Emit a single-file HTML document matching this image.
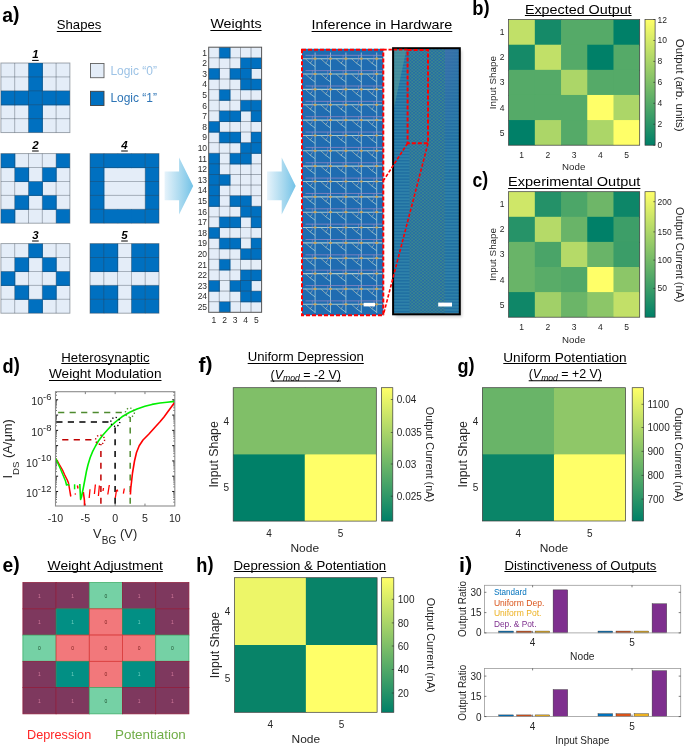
<!DOCTYPE html>
<html><head><meta charset="utf-8"><style>
html,body{margin:0;padding:0;background:#fff;}
svg{display:block;font-family:"Liberation Sans", sans-serif;will-change:transform;}
</style></head><body>
<svg width="685" height="746" viewBox="0 0 685 746">
<rect width="685" height="746" fill="#fff"/>
<text x="2.30" y="21.50" font-size="20" font-weight="bold" fill="#000" textLength="17.20" lengthAdjust="spacingAndGlyphs">a<tspan dy="-1">)</tspan></text>
<text x="56.80" y="28.50" font-size="13.5" fill="#000" textLength="44.50" lengthAdjust="spacingAndGlyphs" >Shapes</text>
<line x1="56.80" y1="31.50" x2="101.30" y2="31.50" stroke="#000" stroke-width="1.0" />
<text x="210.40" y="28.40" font-size="13.5" fill="#000" textLength="51.20" lengthAdjust="spacingAndGlyphs" >Weights</text>
<line x1="210.40" y1="30.50" x2="261.60" y2="30.50" stroke="#000" stroke-width="1.0" />
<text x="311.60" y="29.00" font-size="13.5" fill="#000" textLength="140.70" lengthAdjust="spacingAndGlyphs" >Inference in Hardware</text>
<line x1="311.60" y1="31.50" x2="452.30" y2="31.50" stroke="#000" stroke-width="1.0" />
<rect x="0.90" y="63.00" width="69.00" height="69.60" fill="#E4EDF8" />
<rect x="28.50" y="63.00" width="14.40" height="14.52" fill="#0070C0" />
<rect x="28.50" y="76.92" width="14.40" height="14.52" fill="#0070C0" />
<rect x="0.90" y="90.84" width="14.40" height="14.52" fill="#0070C0" />
<rect x="14.70" y="90.84" width="14.40" height="14.52" fill="#0070C0" />
<rect x="28.50" y="90.84" width="14.40" height="14.52" fill="#0070C0" />
<rect x="42.30" y="90.84" width="14.40" height="14.52" fill="#0070C0" />
<rect x="56.10" y="90.84" width="13.80" height="14.52" fill="#0070C0" />
<rect x="28.50" y="104.76" width="14.40" height="14.52" fill="#0070C0" />
<rect x="28.50" y="118.68" width="14.40" height="13.92" fill="#0070C0" />
<line x1="14.70" y1="63.00" x2="14.70" y2="132.60" stroke="#2E3A46" stroke-width="0.8" opacity="0.45"/>
<line x1="0.90" y1="76.92" x2="69.90" y2="76.92" stroke="#2E3A46" stroke-width="0.8" opacity="0.45"/>
<line x1="28.50" y1="63.00" x2="28.50" y2="132.60" stroke="#2E3A46" stroke-width="0.8" opacity="0.45"/>
<line x1="0.90" y1="90.84" x2="69.90" y2="90.84" stroke="#2E3A46" stroke-width="0.8" opacity="0.45"/>
<line x1="42.30" y1="63.00" x2="42.30" y2="132.60" stroke="#2E3A46" stroke-width="0.8" opacity="0.45"/>
<line x1="0.90" y1="104.76" x2="69.90" y2="104.76" stroke="#2E3A46" stroke-width="0.8" opacity="0.45"/>
<line x1="56.10" y1="63.00" x2="56.10" y2="132.60" stroke="#2E3A46" stroke-width="0.8" opacity="0.45"/>
<line x1="0.90" y1="118.68" x2="69.90" y2="118.68" stroke="#2E3A46" stroke-width="0.8" opacity="0.45"/>
<rect x="0.90" y="63.00" width="69.00" height="69.60" fill="none" stroke="#3A4550" stroke-width="0.9" opacity="0.5"/>
<text x="35.40" y="58.30" font-size="11.5" fill="#000" text-anchor="middle" font-weight="bold" font-style="italic" >1</text>
<line x1="32.10" y1="60.40" x2="38.70" y2="60.40" stroke="#000" stroke-width="1" />
<rect x="0.90" y="153.60" width="69.00" height="69.60" fill="#E4EDF8" />
<rect x="0.90" y="153.60" width="14.40" height="14.52" fill="#0070C0" />
<rect x="56.10" y="153.60" width="13.80" height="14.52" fill="#0070C0" />
<rect x="14.70" y="167.52" width="14.40" height="14.52" fill="#0070C0" />
<rect x="42.30" y="167.52" width="14.40" height="14.52" fill="#0070C0" />
<rect x="28.50" y="181.44" width="14.40" height="14.52" fill="#0070C0" />
<rect x="14.70" y="195.36" width="14.40" height="14.52" fill="#0070C0" />
<rect x="42.30" y="195.36" width="14.40" height="14.52" fill="#0070C0" />
<rect x="0.90" y="209.28" width="14.40" height="13.92" fill="#0070C0" />
<rect x="56.10" y="209.28" width="13.80" height="13.92" fill="#0070C0" />
<line x1="14.70" y1="153.60" x2="14.70" y2="223.20" stroke="#2E3A46" stroke-width="0.8" opacity="0.45"/>
<line x1="0.90" y1="167.52" x2="69.90" y2="167.52" stroke="#2E3A46" stroke-width="0.8" opacity="0.45"/>
<line x1="28.50" y1="153.60" x2="28.50" y2="223.20" stroke="#2E3A46" stroke-width="0.8" opacity="0.45"/>
<line x1="0.90" y1="181.44" x2="69.90" y2="181.44" stroke="#2E3A46" stroke-width="0.8" opacity="0.45"/>
<line x1="42.30" y1="153.60" x2="42.30" y2="223.20" stroke="#2E3A46" stroke-width="0.8" opacity="0.45"/>
<line x1="0.90" y1="195.36" x2="69.90" y2="195.36" stroke="#2E3A46" stroke-width="0.8" opacity="0.45"/>
<line x1="56.10" y1="153.60" x2="56.10" y2="223.20" stroke="#2E3A46" stroke-width="0.8" opacity="0.45"/>
<line x1="0.90" y1="209.28" x2="69.90" y2="209.28" stroke="#2E3A46" stroke-width="0.8" opacity="0.45"/>
<rect x="0.90" y="153.60" width="69.00" height="69.60" fill="none" stroke="#3A4550" stroke-width="0.9" opacity="0.5"/>
<text x="35.40" y="148.90" font-size="11.5" fill="#000" text-anchor="middle" font-weight="bold" font-style="italic" >2</text>
<line x1="32.10" y1="151.00" x2="38.70" y2="151.00" stroke="#000" stroke-width="1" />
<rect x="0.90" y="243.60" width="69.00" height="69.60" fill="#E4EDF8" />
<rect x="28.50" y="243.60" width="14.40" height="14.52" fill="#0070C0" />
<rect x="14.70" y="257.52" width="14.40" height="14.52" fill="#0070C0" />
<rect x="42.30" y="257.52" width="14.40" height="14.52" fill="#0070C0" />
<rect x="0.90" y="271.44" width="14.40" height="14.52" fill="#0070C0" />
<rect x="56.10" y="271.44" width="13.80" height="14.52" fill="#0070C0" />
<rect x="14.70" y="285.36" width="14.40" height="14.52" fill="#0070C0" />
<rect x="42.30" y="285.36" width="14.40" height="14.52" fill="#0070C0" />
<rect x="28.50" y="299.28" width="14.40" height="13.92" fill="#0070C0" />
<line x1="14.70" y1="243.60" x2="14.70" y2="313.20" stroke="#2E3A46" stroke-width="0.8" opacity="0.45"/>
<line x1="0.90" y1="257.52" x2="69.90" y2="257.52" stroke="#2E3A46" stroke-width="0.8" opacity="0.45"/>
<line x1="28.50" y1="243.60" x2="28.50" y2="313.20" stroke="#2E3A46" stroke-width="0.8" opacity="0.45"/>
<line x1="0.90" y1="271.44" x2="69.90" y2="271.44" stroke="#2E3A46" stroke-width="0.8" opacity="0.45"/>
<line x1="42.30" y1="243.60" x2="42.30" y2="313.20" stroke="#2E3A46" stroke-width="0.8" opacity="0.45"/>
<line x1="0.90" y1="285.36" x2="69.90" y2="285.36" stroke="#2E3A46" stroke-width="0.8" opacity="0.45"/>
<line x1="56.10" y1="243.60" x2="56.10" y2="313.20" stroke="#2E3A46" stroke-width="0.8" opacity="0.45"/>
<line x1="0.90" y1="299.28" x2="69.90" y2="299.28" stroke="#2E3A46" stroke-width="0.8" opacity="0.45"/>
<rect x="0.90" y="243.60" width="69.00" height="69.60" fill="none" stroke="#3A4550" stroke-width="0.9" opacity="0.5"/>
<text x="35.40" y="238.90" font-size="11.5" fill="#000" text-anchor="middle" font-weight="bold" font-style="italic" >3</text>
<line x1="32.10" y1="241.00" x2="38.70" y2="241.00" stroke="#000" stroke-width="1" />
<rect x="90.00" y="153.60" width="69.00" height="69.60" fill="#E4EDF8" />
<rect x="90.00" y="153.60" width="14.40" height="14.52" fill="#0070C0" />
<rect x="103.80" y="153.60" width="14.40" height="14.52" fill="#0070C0" />
<rect x="117.60" y="153.60" width="14.40" height="14.52" fill="#0070C0" />
<rect x="131.40" y="153.60" width="14.40" height="14.52" fill="#0070C0" />
<rect x="145.20" y="153.60" width="13.80" height="14.52" fill="#0070C0" />
<rect x="90.00" y="167.52" width="14.40" height="14.52" fill="#0070C0" />
<rect x="145.20" y="167.52" width="13.80" height="14.52" fill="#0070C0" />
<rect x="90.00" y="181.44" width="14.40" height="14.52" fill="#0070C0" />
<rect x="145.20" y="181.44" width="13.80" height="14.52" fill="#0070C0" />
<rect x="90.00" y="195.36" width="14.40" height="14.52" fill="#0070C0" />
<rect x="145.20" y="195.36" width="13.80" height="14.52" fill="#0070C0" />
<rect x="90.00" y="209.28" width="14.40" height="13.92" fill="#0070C0" />
<rect x="103.80" y="209.28" width="14.40" height="13.92" fill="#0070C0" />
<rect x="117.60" y="209.28" width="14.40" height="13.92" fill="#0070C0" />
<rect x="131.40" y="209.28" width="14.40" height="13.92" fill="#0070C0" />
<rect x="145.20" y="209.28" width="13.80" height="13.92" fill="#0070C0" />
<line x1="103.80" y1="153.60" x2="103.80" y2="223.20" stroke="#2E3A46" stroke-width="0.8" opacity="0.45"/>
<line x1="90.00" y1="167.52" x2="159.00" y2="167.52" stroke="#2E3A46" stroke-width="0.8" opacity="0.45"/>
<line x1="90.00" y1="181.44" x2="159.00" y2="181.44" stroke="#2E3A46" stroke-width="0.8" opacity="0.45"/>
<line x1="90.00" y1="195.36" x2="159.00" y2="195.36" stroke="#2E3A46" stroke-width="0.8" opacity="0.45"/>
<line x1="145.20" y1="153.60" x2="145.20" y2="223.20" stroke="#2E3A46" stroke-width="0.8" opacity="0.45"/>
<line x1="90.00" y1="209.28" x2="159.00" y2="209.28" stroke="#2E3A46" stroke-width="0.8" opacity="0.45"/>
<rect x="90.00" y="153.60" width="69.00" height="69.60" fill="none" stroke="#3A4550" stroke-width="0.9" opacity="0.5"/>
<text x="124.50" y="148.90" font-size="11.5" fill="#000" text-anchor="middle" font-weight="bold" font-style="italic" >4</text>
<line x1="121.20" y1="151.00" x2="127.80" y2="151.00" stroke="#000" stroke-width="1" />
<rect x="90.00" y="243.60" width="69.00" height="69.60" fill="#E4EDF8" />
<rect x="90.00" y="243.60" width="14.40" height="14.52" fill="#0070C0" />
<rect x="103.80" y="243.60" width="14.40" height="14.52" fill="#0070C0" />
<rect x="131.40" y="243.60" width="14.40" height="14.52" fill="#0070C0" />
<rect x="145.20" y="243.60" width="13.80" height="14.52" fill="#0070C0" />
<rect x="90.00" y="257.52" width="14.40" height="14.52" fill="#0070C0" />
<rect x="103.80" y="257.52" width="14.40" height="14.52" fill="#0070C0" />
<rect x="131.40" y="257.52" width="14.40" height="14.52" fill="#0070C0" />
<rect x="145.20" y="257.52" width="13.80" height="14.52" fill="#0070C0" />
<rect x="90.00" y="285.36" width="14.40" height="14.52" fill="#0070C0" />
<rect x="103.80" y="285.36" width="14.40" height="14.52" fill="#0070C0" />
<rect x="131.40" y="285.36" width="14.40" height="14.52" fill="#0070C0" />
<rect x="145.20" y="285.36" width="13.80" height="14.52" fill="#0070C0" />
<rect x="90.00" y="299.28" width="14.40" height="13.92" fill="#0070C0" />
<rect x="103.80" y="299.28" width="14.40" height="13.92" fill="#0070C0" />
<rect x="131.40" y="299.28" width="14.40" height="13.92" fill="#0070C0" />
<rect x="145.20" y="299.28" width="13.80" height="13.92" fill="#0070C0" />
<line x1="103.80" y1="243.60" x2="103.80" y2="313.20" stroke="#2E3A46" stroke-width="0.8" opacity="0.45"/>
<line x1="90.00" y1="257.52" x2="159.00" y2="257.52" stroke="#2E3A46" stroke-width="0.8" opacity="0.45"/>
<line x1="117.60" y1="243.60" x2="117.60" y2="313.20" stroke="#2E3A46" stroke-width="0.8" opacity="0.45"/>
<line x1="90.00" y1="271.44" x2="159.00" y2="271.44" stroke="#2E3A46" stroke-width="0.8" opacity="0.45"/>
<line x1="131.40" y1="243.60" x2="131.40" y2="313.20" stroke="#2E3A46" stroke-width="0.8" opacity="0.45"/>
<line x1="90.00" y1="285.36" x2="159.00" y2="285.36" stroke="#2E3A46" stroke-width="0.8" opacity="0.45"/>
<line x1="145.20" y1="243.60" x2="145.20" y2="313.20" stroke="#2E3A46" stroke-width="0.8" opacity="0.45"/>
<line x1="90.00" y1="299.28" x2="159.00" y2="299.28" stroke="#2E3A46" stroke-width="0.8" opacity="0.45"/>
<rect x="90.00" y="243.60" width="69.00" height="69.60" fill="none" stroke="#3A4550" stroke-width="0.9" opacity="0.5"/>
<text x="124.50" y="238.90" font-size="11.5" fill="#000" text-anchor="middle" font-weight="bold" font-style="italic" >5</text>
<line x1="121.20" y1="241.00" x2="127.80" y2="241.00" stroke="#000" stroke-width="1" />
<rect x="90.50" y="63.50" width="13.50" height="14.20" fill="#E4EDF8" stroke="#606060" stroke-width="0.9" />
<rect x="90.50" y="91.30" width="13.50" height="14.20" fill="#0070C0" stroke="#404040" stroke-width="0.9" />
<text x="110.40" y="74.70" font-size="12" fill="#9DC3E6" textLength="46.60" lengthAdjust="spacingAndGlyphs" >Logic &#8220;0&#8221;</text>
<text x="110.40" y="102.40" font-size="12" fill="#2E75B6" textLength="46.60" lengthAdjust="spacingAndGlyphs" >Logic &#8220;1&#8221;</text>
<defs><linearGradient id="ag" x1="0" x2="1" y1="0" y2="0"><stop offset="0" stop-color="#E6F3FB"/><stop offset="0.55" stop-color="#A9D9EF"/><stop offset="1" stop-color="#72C2E7"/></linearGradient></defs>
<polygon points="164.6,171.6 179.1,171.6 179.1,157.5 193.2,186 179.1,214.6 179.1,200.3 164.6,200.3" fill="url(#ag)"/>
<polygon points="267.1,171.6 281.7,171.6 281.7,157.5 295.7,186 281.7,214.6 281.7,200.3 267.1,200.3" fill="url(#ag)"/>
<rect x="208.70" y="47.20" width="52.90" height="265.10" fill="#E4EDF8" />
<rect x="219.28" y="47.20" width="11.18" height="11.20" fill="#0070C0" />
<rect x="240.44" y="57.80" width="11.18" height="11.20" fill="#0070C0" />
<rect x="251.02" y="57.80" width="10.58" height="11.20" fill="#0070C0" />
<rect x="208.70" y="68.41" width="11.18" height="11.20" fill="#0070C0" />
<rect x="229.86" y="68.41" width="11.18" height="11.20" fill="#0070C0" />
<rect x="240.44" y="68.41" width="11.18" height="11.20" fill="#0070C0" />
<rect x="240.44" y="79.01" width="11.18" height="11.20" fill="#0070C0" />
<rect x="251.02" y="79.01" width="10.58" height="11.20" fill="#0070C0" />
<rect x="219.28" y="89.62" width="11.18" height="11.20" fill="#0070C0" />
<rect x="240.44" y="100.22" width="11.18" height="11.20" fill="#0070C0" />
<rect x="251.02" y="100.22" width="10.58" height="11.20" fill="#0070C0" />
<rect x="219.28" y="110.82" width="11.18" height="11.20" fill="#0070C0" />
<rect x="229.86" y="110.82" width="11.18" height="11.20" fill="#0070C0" />
<rect x="251.02" y="110.82" width="10.58" height="11.20" fill="#0070C0" />
<rect x="208.70" y="121.43" width="11.18" height="11.20" fill="#0070C0" />
<rect x="219.28" y="132.03" width="11.18" height="11.20" fill="#0070C0" />
<rect x="229.86" y="132.03" width="11.18" height="11.20" fill="#0070C0" />
<rect x="251.02" y="132.03" width="10.58" height="11.20" fill="#0070C0" />
<rect x="240.44" y="142.64" width="11.18" height="11.20" fill="#0070C0" />
<rect x="251.02" y="142.64" width="10.58" height="11.20" fill="#0070C0" />
<rect x="208.70" y="153.24" width="11.18" height="11.20" fill="#0070C0" />
<rect x="229.86" y="153.24" width="11.18" height="11.20" fill="#0070C0" />
<rect x="240.44" y="153.24" width="11.18" height="11.20" fill="#0070C0" />
<rect x="208.70" y="163.84" width="11.18" height="11.20" fill="#0070C0" />
<rect x="208.70" y="174.45" width="11.18" height="11.20" fill="#0070C0" />
<rect x="219.28" y="174.45" width="11.18" height="11.20" fill="#0070C0" />
<rect x="208.70" y="185.05" width="11.18" height="11.20" fill="#0070C0" />
<rect x="208.70" y="195.66" width="11.18" height="11.20" fill="#0070C0" />
<rect x="229.86" y="195.66" width="11.18" height="11.20" fill="#0070C0" />
<rect x="240.44" y="195.66" width="11.18" height="11.20" fill="#0070C0" />
<rect x="240.44" y="206.26" width="11.18" height="11.20" fill="#0070C0" />
<rect x="251.02" y="206.26" width="10.58" height="11.20" fill="#0070C0" />
<rect x="219.28" y="216.86" width="11.18" height="11.20" fill="#0070C0" />
<rect x="229.86" y="216.86" width="11.18" height="11.20" fill="#0070C0" />
<rect x="251.02" y="216.86" width="10.58" height="11.20" fill="#0070C0" />
<rect x="208.70" y="227.47" width="11.18" height="11.20" fill="#0070C0" />
<rect x="219.28" y="238.07" width="11.18" height="11.20" fill="#0070C0" />
<rect x="229.86" y="238.07" width="11.18" height="11.20" fill="#0070C0" />
<rect x="251.02" y="238.07" width="10.58" height="11.20" fill="#0070C0" />
<rect x="240.44" y="248.68" width="11.18" height="11.20" fill="#0070C0" />
<rect x="251.02" y="248.68" width="10.58" height="11.20" fill="#0070C0" />
<rect x="219.28" y="259.28" width="11.18" height="11.20" fill="#0070C0" />
<rect x="240.44" y="269.88" width="11.18" height="11.20" fill="#0070C0" />
<rect x="251.02" y="269.88" width="10.58" height="11.20" fill="#0070C0" />
<rect x="208.70" y="280.49" width="11.18" height="11.20" fill="#0070C0" />
<rect x="229.86" y="280.49" width="11.18" height="11.20" fill="#0070C0" />
<rect x="240.44" y="280.49" width="11.18" height="11.20" fill="#0070C0" />
<rect x="240.44" y="291.09" width="11.18" height="11.20" fill="#0070C0" />
<rect x="251.02" y="291.09" width="10.58" height="11.20" fill="#0070C0" />
<rect x="219.28" y="301.70" width="11.18" height="10.60" fill="#0070C0" />
<line x1="219.28" y1="47.20" x2="219.28" y2="312.30" stroke="#2E3A46" stroke-width="0.8" opacity="0.5"/>
<line x1="229.86" y1="47.20" x2="229.86" y2="312.30" stroke="#2E3A46" stroke-width="0.8" opacity="0.5"/>
<line x1="240.44" y1="47.20" x2="240.44" y2="312.30" stroke="#2E3A46" stroke-width="0.8" opacity="0.5"/>
<line x1="251.02" y1="47.20" x2="251.02" y2="312.30" stroke="#2E3A46" stroke-width="0.8" opacity="0.5"/>
<line x1="208.70" y1="57.80" x2="261.60" y2="57.80" stroke="#2E3A46" stroke-width="0.8" opacity="0.5"/>
<line x1="208.70" y1="68.41" x2="261.60" y2="68.41" stroke="#2E3A46" stroke-width="0.8" opacity="0.5"/>
<line x1="208.70" y1="79.01" x2="261.60" y2="79.01" stroke="#2E3A46" stroke-width="0.8" opacity="0.5"/>
<line x1="208.70" y1="89.62" x2="261.60" y2="89.62" stroke="#2E3A46" stroke-width="0.8" opacity="0.5"/>
<line x1="208.70" y1="100.22" x2="261.60" y2="100.22" stroke="#2E3A46" stroke-width="0.8" opacity="0.5"/>
<line x1="208.70" y1="110.82" x2="261.60" y2="110.82" stroke="#2E3A46" stroke-width="0.8" opacity="0.5"/>
<line x1="208.70" y1="121.43" x2="261.60" y2="121.43" stroke="#2E3A46" stroke-width="0.8" opacity="0.5"/>
<line x1="208.70" y1="132.03" x2="261.60" y2="132.03" stroke="#2E3A46" stroke-width="0.8" opacity="0.5"/>
<line x1="208.70" y1="142.64" x2="261.60" y2="142.64" stroke="#2E3A46" stroke-width="0.8" opacity="0.5"/>
<line x1="208.70" y1="153.24" x2="261.60" y2="153.24" stroke="#2E3A46" stroke-width="0.8" opacity="0.5"/>
<line x1="208.70" y1="163.84" x2="261.60" y2="163.84" stroke="#2E3A46" stroke-width="0.8" opacity="0.5"/>
<line x1="208.70" y1="174.45" x2="261.60" y2="174.45" stroke="#2E3A46" stroke-width="0.8" opacity="0.5"/>
<line x1="208.70" y1="185.05" x2="261.60" y2="185.05" stroke="#2E3A46" stroke-width="0.8" opacity="0.5"/>
<line x1="208.70" y1="195.66" x2="261.60" y2="195.66" stroke="#2E3A46" stroke-width="0.8" opacity="0.5"/>
<line x1="208.70" y1="206.26" x2="261.60" y2="206.26" stroke="#2E3A46" stroke-width="0.8" opacity="0.5"/>
<line x1="208.70" y1="216.86" x2="261.60" y2="216.86" stroke="#2E3A46" stroke-width="0.8" opacity="0.5"/>
<line x1="208.70" y1="227.47" x2="261.60" y2="227.47" stroke="#2E3A46" stroke-width="0.8" opacity="0.5"/>
<line x1="208.70" y1="238.07" x2="261.60" y2="238.07" stroke="#2E3A46" stroke-width="0.8" opacity="0.5"/>
<line x1="208.70" y1="248.68" x2="261.60" y2="248.68" stroke="#2E3A46" stroke-width="0.8" opacity="0.5"/>
<line x1="208.70" y1="259.28" x2="261.60" y2="259.28" stroke="#2E3A46" stroke-width="0.8" opacity="0.5"/>
<line x1="208.70" y1="269.88" x2="261.60" y2="269.88" stroke="#2E3A46" stroke-width="0.8" opacity="0.5"/>
<line x1="208.70" y1="280.49" x2="261.60" y2="280.49" stroke="#2E3A46" stroke-width="0.8" opacity="0.5"/>
<line x1="208.70" y1="291.09" x2="261.60" y2="291.09" stroke="#2E3A46" stroke-width="0.8" opacity="0.5"/>
<line x1="208.70" y1="301.70" x2="261.60" y2="301.70" stroke="#2E3A46" stroke-width="0.8" opacity="0.5"/>
<rect x="208.70" y="47.20" width="52.90" height="265.10" fill="none" stroke="#555" stroke-width="1" />
<text x="207.10" y="55.60" font-size="8.5" fill="#2a2a2a" text-anchor="end" >1</text>
<text x="207.10" y="66.21" font-size="8.5" fill="#2a2a2a" text-anchor="end" >2</text>
<text x="207.10" y="76.81" font-size="8.5" fill="#2a2a2a" text-anchor="end" >3</text>
<text x="207.10" y="87.41" font-size="8.5" fill="#2a2a2a" text-anchor="end" >4</text>
<text x="207.10" y="98.02" font-size="8.5" fill="#2a2a2a" text-anchor="end" >5</text>
<text x="207.10" y="108.62" font-size="8.5" fill="#2a2a2a" text-anchor="end" >6</text>
<text x="207.10" y="119.23" font-size="8.5" fill="#2a2a2a" text-anchor="end" >7</text>
<text x="207.10" y="129.83" font-size="8.5" fill="#2a2a2a" text-anchor="end" >8</text>
<text x="207.10" y="140.43" font-size="8.5" fill="#2a2a2a" text-anchor="end" >9</text>
<text x="207.10" y="151.04" font-size="8.5" fill="#2a2a2a" text-anchor="end" >10</text>
<text x="207.10" y="161.64" font-size="8.5" fill="#2a2a2a" text-anchor="end" >11</text>
<text x="207.10" y="172.25" font-size="8.5" fill="#2a2a2a" text-anchor="end" >12</text>
<text x="207.10" y="182.85" font-size="8.5" fill="#2a2a2a" text-anchor="end" >13</text>
<text x="207.10" y="193.45" font-size="8.5" fill="#2a2a2a" text-anchor="end" >14</text>
<text x="207.10" y="204.06" font-size="8.5" fill="#2a2a2a" text-anchor="end" >15</text>
<text x="207.10" y="214.66" font-size="8.5" fill="#2a2a2a" text-anchor="end" >16</text>
<text x="207.10" y="225.27" font-size="8.5" fill="#2a2a2a" text-anchor="end" >17</text>
<text x="207.10" y="235.87" font-size="8.5" fill="#2a2a2a" text-anchor="end" >18</text>
<text x="207.10" y="246.47" font-size="8.5" fill="#2a2a2a" text-anchor="end" >19</text>
<text x="207.10" y="257.08" font-size="8.5" fill="#2a2a2a" text-anchor="end" >20</text>
<text x="207.10" y="267.68" font-size="8.5" fill="#2a2a2a" text-anchor="end" >21</text>
<text x="207.10" y="278.29" font-size="8.5" fill="#2a2a2a" text-anchor="end" >22</text>
<text x="207.10" y="288.89" font-size="8.5" fill="#2a2a2a" text-anchor="end" >23</text>
<text x="207.10" y="299.49" font-size="8.5" fill="#2a2a2a" text-anchor="end" >24</text>
<text x="207.10" y="310.10" font-size="8.5" fill="#2a2a2a" text-anchor="end" >25</text>
<text x="213.99" y="322.60" font-size="8.5" fill="#2a2a2a" text-anchor="middle" >1</text>
<text x="224.57" y="322.60" font-size="8.5" fill="#2a2a2a" text-anchor="middle" >2</text>
<text x="235.15" y="322.60" font-size="8.5" fill="#2a2a2a" text-anchor="middle" >3</text>
<text x="245.73" y="322.60" font-size="8.5" fill="#2a2a2a" text-anchor="middle" >4</text>
<text x="256.31" y="322.60" font-size="8.5" fill="#2a2a2a" text-anchor="middle" >5</text>
<defs><clipPath id="cpR"><rect x="303" y="50" width="79.3" height="263.2"/></clipPath><pattern id="stripes" x="0" y="49" width="4" height="3.08" patternUnits="userSpaceOnUse"><rect width="4" height="3.08" fill="#2070A2"/><rect y="1.6" width="4" height="1.48" fill="#2F82AA"/></pattern><pattern id="checker" x="409.5" y="49" width="3.6" height="3.08" patternUnits="userSpaceOnUse"><rect width="3.6" height="3.08" fill="#266CA6"/><rect width="1.8" height="1.54" fill="#3A878E"/><rect x="1.8" y="1.54" width="1.8" height="1.54" fill="#3A878E"/></pattern><linearGradient id="rg" x1="0" x2="0.3" y1="0" y2="1"><stop offset="0" stop-color="#3F70AC" stop-opacity="0.85"/><stop offset="1" stop-color="#2A6CA8" stop-opacity="0"/></linearGradient></defs>
<rect x="302.00" y="48.80" width="81.30" height="266.40" fill="#1F6CB1" />
<g clip-path="url(#cpR)">
<line x1="315.10" y1="52.50" x2="315.10" y2="313.00" stroke="#9CC3D2" stroke-width="0.9" />
<line x1="330.50" y1="52.50" x2="330.50" y2="313.00" stroke="#9CC3D2" stroke-width="0.9" />
<line x1="345.90" y1="52.50" x2="345.90" y2="313.00" stroke="#9CC3D2" stroke-width="0.9" />
<line x1="361.30" y1="52.50" x2="361.30" y2="313.00" stroke="#9CC3D2" stroke-width="0.9" />
<line x1="376.70" y1="52.50" x2="376.70" y2="313.00" stroke="#9CC3D2" stroke-width="0.9" />
<line x1="305.50" y1="55.30" x2="383.00" y2="55.30" stroke="#9088C4" stroke-width="0.8" />
<line x1="303.00" y1="58.70" x2="383.00" y2="58.70" stroke="#A7C9CE" stroke-width="1.1" />
<polyline points="305.3,58.7 310.1,63.0 312.1,61.1" fill="none" stroke="#B4BCB0" stroke-width="0.8" opacity="0.9"/>
<line x1="312.10" y1="61.10" x2="312.40" y2="55.00" stroke="#9A8CC0" stroke-width="0.7" opacity="0.8"/>
<line x1="310.10" y1="63.00" x2="314.90" y2="66.50" stroke="#A9CFD6" stroke-width="0.8" />
<ellipse cx="315.1" cy="58.7" rx="1.7" ry="1.1" fill="#C8A45C"/>
<polyline points="320.7,58.7 325.5,63.0 327.5,61.1" fill="none" stroke="#B4BCB0" stroke-width="0.8" opacity="0.9"/>
<line x1="327.50" y1="61.10" x2="327.80" y2="55.00" stroke="#9A8CC0" stroke-width="0.7" opacity="0.8"/>
<line x1="325.50" y1="63.00" x2="330.30" y2="66.50" stroke="#A9CFD6" stroke-width="0.8" />
<ellipse cx="330.5" cy="58.7" rx="1.7" ry="1.1" fill="#C8A45C"/>
<polyline points="336.1,58.7 340.9,63.0 342.9,61.1" fill="none" stroke="#B4BCB0" stroke-width="0.8" opacity="0.9"/>
<line x1="342.90" y1="61.10" x2="343.20" y2="55.00" stroke="#9A8CC0" stroke-width="0.7" opacity="0.8"/>
<line x1="340.90" y1="63.00" x2="345.70" y2="66.50" stroke="#A9CFD6" stroke-width="0.8" />
<ellipse cx="345.9" cy="58.7" rx="1.7" ry="1.1" fill="#C8A45C"/>
<polyline points="351.5,58.7 356.3,63.0 358.3,61.1" fill="none" stroke="#B4BCB0" stroke-width="0.8" opacity="0.9"/>
<line x1="358.30" y1="61.10" x2="358.60" y2="55.00" stroke="#9A8CC0" stroke-width="0.7" opacity="0.8"/>
<line x1="356.30" y1="63.00" x2="361.10" y2="66.50" stroke="#A9CFD6" stroke-width="0.8" />
<ellipse cx="361.3" cy="58.7" rx="1.7" ry="1.1" fill="#C8A45C"/>
<polyline points="366.9,58.7 371.7,63.0 373.7,61.1" fill="none" stroke="#B4BCB0" stroke-width="0.8" opacity="0.9"/>
<line x1="373.70" y1="61.10" x2="374.00" y2="55.00" stroke="#9A8CC0" stroke-width="0.7" opacity="0.8"/>
<line x1="371.70" y1="63.00" x2="376.50" y2="66.50" stroke="#A9CFD6" stroke-width="0.8" />
<ellipse cx="376.7" cy="58.7" rx="1.7" ry="1.1" fill="#C8A45C"/>
<line x1="305.50" y1="70.65" x2="383.00" y2="70.65" stroke="#9088C4" stroke-width="0.8" />
<line x1="303.00" y1="74.05" x2="383.00" y2="74.05" stroke="#A7C9CE" stroke-width="1.1" />
<polyline points="305.3,74.0 310.1,78.3 312.1,76.5" fill="none" stroke="#B4BCB0" stroke-width="0.8" opacity="0.9"/>
<line x1="312.10" y1="76.45" x2="312.40" y2="70.35" stroke="#9A8CC0" stroke-width="0.7" opacity="0.8"/>
<line x1="310.10" y1="78.35" x2="314.90" y2="81.85" stroke="#A9CFD6" stroke-width="0.8" />
<ellipse cx="315.1" cy="74.0" rx="1.7" ry="1.1" fill="#C8A45C"/>
<polyline points="320.7,74.0 325.5,78.3 327.5,76.5" fill="none" stroke="#B4BCB0" stroke-width="0.8" opacity="0.9"/>
<line x1="327.50" y1="76.45" x2="327.80" y2="70.35" stroke="#9A8CC0" stroke-width="0.7" opacity="0.8"/>
<line x1="325.50" y1="78.35" x2="330.30" y2="81.85" stroke="#A9CFD6" stroke-width="0.8" />
<ellipse cx="330.5" cy="74.0" rx="1.7" ry="1.1" fill="#C8A45C"/>
<polyline points="336.1,74.0 340.9,78.3 342.9,76.5" fill="none" stroke="#B4BCB0" stroke-width="0.8" opacity="0.9"/>
<line x1="342.90" y1="76.45" x2="343.20" y2="70.35" stroke="#9A8CC0" stroke-width="0.7" opacity="0.8"/>
<line x1="340.90" y1="78.35" x2="345.70" y2="81.85" stroke="#A9CFD6" stroke-width="0.8" />
<ellipse cx="345.9" cy="74.0" rx="1.7" ry="1.1" fill="#C8A45C"/>
<polyline points="351.5,74.0 356.3,78.3 358.3,76.5" fill="none" stroke="#B4BCB0" stroke-width="0.8" opacity="0.9"/>
<line x1="358.30" y1="76.45" x2="358.60" y2="70.35" stroke="#9A8CC0" stroke-width="0.7" opacity="0.8"/>
<line x1="356.30" y1="78.35" x2="361.10" y2="81.85" stroke="#A9CFD6" stroke-width="0.8" />
<ellipse cx="361.3" cy="74.0" rx="1.7" ry="1.1" fill="#C8A45C"/>
<polyline points="366.9,74.0 371.7,78.3 373.7,76.5" fill="none" stroke="#B4BCB0" stroke-width="0.8" opacity="0.9"/>
<line x1="373.70" y1="76.45" x2="374.00" y2="70.35" stroke="#9A8CC0" stroke-width="0.7" opacity="0.8"/>
<line x1="371.70" y1="78.35" x2="376.50" y2="81.85" stroke="#A9CFD6" stroke-width="0.8" />
<ellipse cx="376.7" cy="74.0" rx="1.7" ry="1.1" fill="#C8A45C"/>
<line x1="305.50" y1="86.00" x2="383.00" y2="86.00" stroke="#9088C4" stroke-width="0.8" />
<line x1="303.00" y1="89.40" x2="383.00" y2="89.40" stroke="#A7C9CE" stroke-width="1.1" />
<polyline points="305.3,89.4 310.1,93.7 312.1,91.8" fill="none" stroke="#B4BCB0" stroke-width="0.8" opacity="0.9"/>
<line x1="312.10" y1="91.80" x2="312.40" y2="85.70" stroke="#9A8CC0" stroke-width="0.7" opacity="0.8"/>
<line x1="310.10" y1="93.70" x2="314.90" y2="97.20" stroke="#A9CFD6" stroke-width="0.8" />
<ellipse cx="315.1" cy="89.4" rx="1.7" ry="1.1" fill="#C8A45C"/>
<polyline points="320.7,89.4 325.5,93.7 327.5,91.8" fill="none" stroke="#B4BCB0" stroke-width="0.8" opacity="0.9"/>
<line x1="327.50" y1="91.80" x2="327.80" y2="85.70" stroke="#9A8CC0" stroke-width="0.7" opacity="0.8"/>
<line x1="325.50" y1="93.70" x2="330.30" y2="97.20" stroke="#A9CFD6" stroke-width="0.8" />
<ellipse cx="330.5" cy="89.4" rx="1.7" ry="1.1" fill="#C8A45C"/>
<polyline points="336.1,89.4 340.9,93.7 342.9,91.8" fill="none" stroke="#B4BCB0" stroke-width="0.8" opacity="0.9"/>
<line x1="342.90" y1="91.80" x2="343.20" y2="85.70" stroke="#9A8CC0" stroke-width="0.7" opacity="0.8"/>
<line x1="340.90" y1="93.70" x2="345.70" y2="97.20" stroke="#A9CFD6" stroke-width="0.8" />
<ellipse cx="345.9" cy="89.4" rx="1.7" ry="1.1" fill="#C8A45C"/>
<polyline points="351.5,89.4 356.3,93.7 358.3,91.8" fill="none" stroke="#B4BCB0" stroke-width="0.8" opacity="0.9"/>
<line x1="358.30" y1="91.80" x2="358.60" y2="85.70" stroke="#9A8CC0" stroke-width="0.7" opacity="0.8"/>
<line x1="356.30" y1="93.70" x2="361.10" y2="97.20" stroke="#A9CFD6" stroke-width="0.8" />
<ellipse cx="361.3" cy="89.4" rx="1.7" ry="1.1" fill="#C8A45C"/>
<polyline points="366.9,89.4 371.7,93.7 373.7,91.8" fill="none" stroke="#B4BCB0" stroke-width="0.8" opacity="0.9"/>
<line x1="373.70" y1="91.80" x2="374.00" y2="85.70" stroke="#9A8CC0" stroke-width="0.7" opacity="0.8"/>
<line x1="371.70" y1="93.70" x2="376.50" y2="97.20" stroke="#A9CFD6" stroke-width="0.8" />
<ellipse cx="376.7" cy="89.4" rx="1.7" ry="1.1" fill="#C8A45C"/>
<line x1="305.50" y1="101.35" x2="383.00" y2="101.35" stroke="#9088C4" stroke-width="0.8" />
<line x1="303.00" y1="104.75" x2="383.00" y2="104.75" stroke="#A7C9CE" stroke-width="1.1" />
<polyline points="305.3,104.8 310.1,109.0 312.1,107.2" fill="none" stroke="#B4BCB0" stroke-width="0.8" opacity="0.9"/>
<line x1="312.10" y1="107.15" x2="312.40" y2="101.05" stroke="#9A8CC0" stroke-width="0.7" opacity="0.8"/>
<line x1="310.10" y1="109.05" x2="314.90" y2="112.55" stroke="#A9CFD6" stroke-width="0.8" />
<ellipse cx="315.1" cy="104.8" rx="1.7" ry="1.1" fill="#C8A45C"/>
<polyline points="320.7,104.8 325.5,109.0 327.5,107.2" fill="none" stroke="#B4BCB0" stroke-width="0.8" opacity="0.9"/>
<line x1="327.50" y1="107.15" x2="327.80" y2="101.05" stroke="#9A8CC0" stroke-width="0.7" opacity="0.8"/>
<line x1="325.50" y1="109.05" x2="330.30" y2="112.55" stroke="#A9CFD6" stroke-width="0.8" />
<ellipse cx="330.5" cy="104.8" rx="1.7" ry="1.1" fill="#C8A45C"/>
<polyline points="336.1,104.8 340.9,109.0 342.9,107.2" fill="none" stroke="#B4BCB0" stroke-width="0.8" opacity="0.9"/>
<line x1="342.90" y1="107.15" x2="343.20" y2="101.05" stroke="#9A8CC0" stroke-width="0.7" opacity="0.8"/>
<line x1="340.90" y1="109.05" x2="345.70" y2="112.55" stroke="#A9CFD6" stroke-width="0.8" />
<ellipse cx="345.9" cy="104.8" rx="1.7" ry="1.1" fill="#C8A45C"/>
<polyline points="351.5,104.8 356.3,109.0 358.3,107.2" fill="none" stroke="#B4BCB0" stroke-width="0.8" opacity="0.9"/>
<line x1="358.30" y1="107.15" x2="358.60" y2="101.05" stroke="#9A8CC0" stroke-width="0.7" opacity="0.8"/>
<line x1="356.30" y1="109.05" x2="361.10" y2="112.55" stroke="#A9CFD6" stroke-width="0.8" />
<ellipse cx="361.3" cy="104.8" rx="1.7" ry="1.1" fill="#C8A45C"/>
<polyline points="366.9,104.8 371.7,109.0 373.7,107.2" fill="none" stroke="#B4BCB0" stroke-width="0.8" opacity="0.9"/>
<line x1="373.70" y1="107.15" x2="374.00" y2="101.05" stroke="#9A8CC0" stroke-width="0.7" opacity="0.8"/>
<line x1="371.70" y1="109.05" x2="376.50" y2="112.55" stroke="#A9CFD6" stroke-width="0.8" />
<ellipse cx="376.7" cy="104.8" rx="1.7" ry="1.1" fill="#C8A45C"/>
<line x1="305.50" y1="116.70" x2="383.00" y2="116.70" stroke="#9088C4" stroke-width="0.8" />
<line x1="303.00" y1="120.10" x2="383.00" y2="120.10" stroke="#A7C9CE" stroke-width="1.1" />
<polyline points="305.3,120.1 310.1,124.4 312.1,122.5" fill="none" stroke="#B4BCB0" stroke-width="0.8" opacity="0.9"/>
<line x1="312.10" y1="122.50" x2="312.40" y2="116.40" stroke="#9A8CC0" stroke-width="0.7" opacity="0.8"/>
<line x1="310.10" y1="124.40" x2="314.90" y2="127.90" stroke="#A9CFD6" stroke-width="0.8" />
<ellipse cx="315.1" cy="120.1" rx="1.7" ry="1.1" fill="#C8A45C"/>
<polyline points="320.7,120.1 325.5,124.4 327.5,122.5" fill="none" stroke="#B4BCB0" stroke-width="0.8" opacity="0.9"/>
<line x1="327.50" y1="122.50" x2="327.80" y2="116.40" stroke="#9A8CC0" stroke-width="0.7" opacity="0.8"/>
<line x1="325.50" y1="124.40" x2="330.30" y2="127.90" stroke="#A9CFD6" stroke-width="0.8" />
<ellipse cx="330.5" cy="120.1" rx="1.7" ry="1.1" fill="#C8A45C"/>
<polyline points="336.1,120.1 340.9,124.4 342.9,122.5" fill="none" stroke="#B4BCB0" stroke-width="0.8" opacity="0.9"/>
<line x1="342.90" y1="122.50" x2="343.20" y2="116.40" stroke="#9A8CC0" stroke-width="0.7" opacity="0.8"/>
<line x1="340.90" y1="124.40" x2="345.70" y2="127.90" stroke="#A9CFD6" stroke-width="0.8" />
<ellipse cx="345.9" cy="120.1" rx="1.7" ry="1.1" fill="#C8A45C"/>
<polyline points="351.5,120.1 356.3,124.4 358.3,122.5" fill="none" stroke="#B4BCB0" stroke-width="0.8" opacity="0.9"/>
<line x1="358.30" y1="122.50" x2="358.60" y2="116.40" stroke="#9A8CC0" stroke-width="0.7" opacity="0.8"/>
<line x1="356.30" y1="124.40" x2="361.10" y2="127.90" stroke="#A9CFD6" stroke-width="0.8" />
<ellipse cx="361.3" cy="120.1" rx="1.7" ry="1.1" fill="#C8A45C"/>
<polyline points="366.9,120.1 371.7,124.4 373.7,122.5" fill="none" stroke="#B4BCB0" stroke-width="0.8" opacity="0.9"/>
<line x1="373.70" y1="122.50" x2="374.00" y2="116.40" stroke="#9A8CC0" stroke-width="0.7" opacity="0.8"/>
<line x1="371.70" y1="124.40" x2="376.50" y2="127.90" stroke="#A9CFD6" stroke-width="0.8" />
<ellipse cx="376.7" cy="120.1" rx="1.7" ry="1.1" fill="#C8A45C"/>
<line x1="305.50" y1="132.05" x2="383.00" y2="132.05" stroke="#9088C4" stroke-width="0.8" />
<line x1="303.00" y1="135.45" x2="383.00" y2="135.45" stroke="#A7C9CE" stroke-width="1.1" />
<polyline points="305.3,135.5 310.1,139.8 312.1,137.9" fill="none" stroke="#B4BCB0" stroke-width="0.8" opacity="0.9"/>
<line x1="312.10" y1="137.85" x2="312.40" y2="131.75" stroke="#9A8CC0" stroke-width="0.7" opacity="0.8"/>
<line x1="310.10" y1="139.75" x2="314.90" y2="143.25" stroke="#A9CFD6" stroke-width="0.8" />
<ellipse cx="315.1" cy="135.5" rx="1.7" ry="1.1" fill="#C8A45C"/>
<polyline points="320.7,135.5 325.5,139.8 327.5,137.9" fill="none" stroke="#B4BCB0" stroke-width="0.8" opacity="0.9"/>
<line x1="327.50" y1="137.85" x2="327.80" y2="131.75" stroke="#9A8CC0" stroke-width="0.7" opacity="0.8"/>
<line x1="325.50" y1="139.75" x2="330.30" y2="143.25" stroke="#A9CFD6" stroke-width="0.8" />
<ellipse cx="330.5" cy="135.5" rx="1.7" ry="1.1" fill="#C8A45C"/>
<polyline points="336.1,135.5 340.9,139.8 342.9,137.9" fill="none" stroke="#B4BCB0" stroke-width="0.8" opacity="0.9"/>
<line x1="342.90" y1="137.85" x2="343.20" y2="131.75" stroke="#9A8CC0" stroke-width="0.7" opacity="0.8"/>
<line x1="340.90" y1="139.75" x2="345.70" y2="143.25" stroke="#A9CFD6" stroke-width="0.8" />
<ellipse cx="345.9" cy="135.5" rx="1.7" ry="1.1" fill="#C8A45C"/>
<polyline points="351.5,135.5 356.3,139.8 358.3,137.9" fill="none" stroke="#B4BCB0" stroke-width="0.8" opacity="0.9"/>
<line x1="358.30" y1="137.85" x2="358.60" y2="131.75" stroke="#9A8CC0" stroke-width="0.7" opacity="0.8"/>
<line x1="356.30" y1="139.75" x2="361.10" y2="143.25" stroke="#A9CFD6" stroke-width="0.8" />
<ellipse cx="361.3" cy="135.5" rx="1.7" ry="1.1" fill="#C8A45C"/>
<polyline points="366.9,135.5 371.7,139.8 373.7,137.9" fill="none" stroke="#B4BCB0" stroke-width="0.8" opacity="0.9"/>
<line x1="373.70" y1="137.85" x2="374.00" y2="131.75" stroke="#9A8CC0" stroke-width="0.7" opacity="0.8"/>
<line x1="371.70" y1="139.75" x2="376.50" y2="143.25" stroke="#A9CFD6" stroke-width="0.8" />
<ellipse cx="376.7" cy="135.5" rx="1.7" ry="1.1" fill="#C8A45C"/>
<line x1="305.50" y1="147.40" x2="383.00" y2="147.40" stroke="#9088C4" stroke-width="0.8" />
<line x1="303.00" y1="150.80" x2="383.00" y2="150.80" stroke="#A7C9CE" stroke-width="1.1" />
<polyline points="305.3,150.8 310.1,155.1 312.1,153.2" fill="none" stroke="#B4BCB0" stroke-width="0.8" opacity="0.9"/>
<line x1="312.10" y1="153.20" x2="312.40" y2="147.10" stroke="#9A8CC0" stroke-width="0.7" opacity="0.8"/>
<line x1="310.10" y1="155.10" x2="314.90" y2="158.60" stroke="#A9CFD6" stroke-width="0.8" />
<ellipse cx="315.1" cy="150.8" rx="1.7" ry="1.1" fill="#C8A45C"/>
<polyline points="320.7,150.8 325.5,155.1 327.5,153.2" fill="none" stroke="#B4BCB0" stroke-width="0.8" opacity="0.9"/>
<line x1="327.50" y1="153.20" x2="327.80" y2="147.10" stroke="#9A8CC0" stroke-width="0.7" opacity="0.8"/>
<line x1="325.50" y1="155.10" x2="330.30" y2="158.60" stroke="#A9CFD6" stroke-width="0.8" />
<ellipse cx="330.5" cy="150.8" rx="1.7" ry="1.1" fill="#C8A45C"/>
<polyline points="336.1,150.8 340.9,155.1 342.9,153.2" fill="none" stroke="#B4BCB0" stroke-width="0.8" opacity="0.9"/>
<line x1="342.90" y1="153.20" x2="343.20" y2="147.10" stroke="#9A8CC0" stroke-width="0.7" opacity="0.8"/>
<line x1="340.90" y1="155.10" x2="345.70" y2="158.60" stroke="#A9CFD6" stroke-width="0.8" />
<ellipse cx="345.9" cy="150.8" rx="1.7" ry="1.1" fill="#C8A45C"/>
<polyline points="351.5,150.8 356.3,155.1 358.3,153.2" fill="none" stroke="#B4BCB0" stroke-width="0.8" opacity="0.9"/>
<line x1="358.30" y1="153.20" x2="358.60" y2="147.10" stroke="#9A8CC0" stroke-width="0.7" opacity="0.8"/>
<line x1="356.30" y1="155.10" x2="361.10" y2="158.60" stroke="#A9CFD6" stroke-width="0.8" />
<ellipse cx="361.3" cy="150.8" rx="1.7" ry="1.1" fill="#C8A45C"/>
<polyline points="366.9,150.8 371.7,155.1 373.7,153.2" fill="none" stroke="#B4BCB0" stroke-width="0.8" opacity="0.9"/>
<line x1="373.70" y1="153.20" x2="374.00" y2="147.10" stroke="#9A8CC0" stroke-width="0.7" opacity="0.8"/>
<line x1="371.70" y1="155.10" x2="376.50" y2="158.60" stroke="#A9CFD6" stroke-width="0.8" />
<ellipse cx="376.7" cy="150.8" rx="1.7" ry="1.1" fill="#C8A45C"/>
<line x1="305.50" y1="162.75" x2="383.00" y2="162.75" stroke="#9088C4" stroke-width="0.8" />
<line x1="303.00" y1="166.15" x2="383.00" y2="166.15" stroke="#A7C9CE" stroke-width="1.1" />
<polyline points="305.3,166.2 310.1,170.5 312.1,168.6" fill="none" stroke="#B4BCB0" stroke-width="0.8" opacity="0.9"/>
<line x1="312.10" y1="168.55" x2="312.40" y2="162.45" stroke="#9A8CC0" stroke-width="0.7" opacity="0.8"/>
<line x1="310.10" y1="170.45" x2="314.90" y2="173.95" stroke="#A9CFD6" stroke-width="0.8" />
<ellipse cx="315.1" cy="166.2" rx="1.7" ry="1.1" fill="#C8A45C"/>
<polyline points="320.7,166.2 325.5,170.5 327.5,168.6" fill="none" stroke="#B4BCB0" stroke-width="0.8" opacity="0.9"/>
<line x1="327.50" y1="168.55" x2="327.80" y2="162.45" stroke="#9A8CC0" stroke-width="0.7" opacity="0.8"/>
<line x1="325.50" y1="170.45" x2="330.30" y2="173.95" stroke="#A9CFD6" stroke-width="0.8" />
<ellipse cx="330.5" cy="166.2" rx="1.7" ry="1.1" fill="#C8A45C"/>
<polyline points="336.1,166.2 340.9,170.5 342.9,168.6" fill="none" stroke="#B4BCB0" stroke-width="0.8" opacity="0.9"/>
<line x1="342.90" y1="168.55" x2="343.20" y2="162.45" stroke="#9A8CC0" stroke-width="0.7" opacity="0.8"/>
<line x1="340.90" y1="170.45" x2="345.70" y2="173.95" stroke="#A9CFD6" stroke-width="0.8" />
<ellipse cx="345.9" cy="166.2" rx="1.7" ry="1.1" fill="#C8A45C"/>
<polyline points="351.5,166.2 356.3,170.5 358.3,168.6" fill="none" stroke="#B4BCB0" stroke-width="0.8" opacity="0.9"/>
<line x1="358.30" y1="168.55" x2="358.60" y2="162.45" stroke="#9A8CC0" stroke-width="0.7" opacity="0.8"/>
<line x1="356.30" y1="170.45" x2="361.10" y2="173.95" stroke="#A9CFD6" stroke-width="0.8" />
<ellipse cx="361.3" cy="166.2" rx="1.7" ry="1.1" fill="#C8A45C"/>
<polyline points="366.9,166.2 371.7,170.5 373.7,168.6" fill="none" stroke="#B4BCB0" stroke-width="0.8" opacity="0.9"/>
<line x1="373.70" y1="168.55" x2="374.00" y2="162.45" stroke="#9A8CC0" stroke-width="0.7" opacity="0.8"/>
<line x1="371.70" y1="170.45" x2="376.50" y2="173.95" stroke="#A9CFD6" stroke-width="0.8" />
<ellipse cx="376.7" cy="166.2" rx="1.7" ry="1.1" fill="#C8A45C"/>
<line x1="305.50" y1="178.10" x2="383.00" y2="178.10" stroke="#9088C4" stroke-width="0.8" />
<line x1="303.00" y1="181.50" x2="383.00" y2="181.50" stroke="#A7C9CE" stroke-width="1.1" />
<polyline points="305.3,181.5 310.1,185.8 312.1,183.9" fill="none" stroke="#B4BCB0" stroke-width="0.8" opacity="0.9"/>
<line x1="312.10" y1="183.90" x2="312.40" y2="177.80" stroke="#9A8CC0" stroke-width="0.7" opacity="0.8"/>
<line x1="310.10" y1="185.80" x2="314.90" y2="189.30" stroke="#A9CFD6" stroke-width="0.8" />
<ellipse cx="315.1" cy="181.5" rx="1.7" ry="1.1" fill="#C8A45C"/>
<polyline points="320.7,181.5 325.5,185.8 327.5,183.9" fill="none" stroke="#B4BCB0" stroke-width="0.8" opacity="0.9"/>
<line x1="327.50" y1="183.90" x2="327.80" y2="177.80" stroke="#9A8CC0" stroke-width="0.7" opacity="0.8"/>
<line x1="325.50" y1="185.80" x2="330.30" y2="189.30" stroke="#A9CFD6" stroke-width="0.8" />
<ellipse cx="330.5" cy="181.5" rx="1.7" ry="1.1" fill="#C8A45C"/>
<polyline points="336.1,181.5 340.9,185.8 342.9,183.9" fill="none" stroke="#B4BCB0" stroke-width="0.8" opacity="0.9"/>
<line x1="342.90" y1="183.90" x2="343.20" y2="177.80" stroke="#9A8CC0" stroke-width="0.7" opacity="0.8"/>
<line x1="340.90" y1="185.80" x2="345.70" y2="189.30" stroke="#A9CFD6" stroke-width="0.8" />
<ellipse cx="345.9" cy="181.5" rx="1.7" ry="1.1" fill="#C8A45C"/>
<polyline points="351.5,181.5 356.3,185.8 358.3,183.9" fill="none" stroke="#B4BCB0" stroke-width="0.8" opacity="0.9"/>
<line x1="358.30" y1="183.90" x2="358.60" y2="177.80" stroke="#9A8CC0" stroke-width="0.7" opacity="0.8"/>
<line x1="356.30" y1="185.80" x2="361.10" y2="189.30" stroke="#A9CFD6" stroke-width="0.8" />
<ellipse cx="361.3" cy="181.5" rx="1.7" ry="1.1" fill="#C8A45C"/>
<polyline points="366.9,181.5 371.7,185.8 373.7,183.9" fill="none" stroke="#B4BCB0" stroke-width="0.8" opacity="0.9"/>
<line x1="373.70" y1="183.90" x2="374.00" y2="177.80" stroke="#9A8CC0" stroke-width="0.7" opacity="0.8"/>
<line x1="371.70" y1="185.80" x2="376.50" y2="189.30" stroke="#A9CFD6" stroke-width="0.8" />
<ellipse cx="376.7" cy="181.5" rx="1.7" ry="1.1" fill="#C8A45C"/>
<line x1="305.50" y1="193.45" x2="383.00" y2="193.45" stroke="#9088C4" stroke-width="0.8" />
<line x1="303.00" y1="196.85" x2="383.00" y2="196.85" stroke="#A7C9CE" stroke-width="1.1" />
<polyline points="305.3,196.8 310.1,201.2 312.1,199.2" fill="none" stroke="#B4BCB0" stroke-width="0.8" opacity="0.9"/>
<line x1="312.10" y1="199.25" x2="312.40" y2="193.15" stroke="#9A8CC0" stroke-width="0.7" opacity="0.8"/>
<line x1="310.10" y1="201.15" x2="314.90" y2="204.65" stroke="#A9CFD6" stroke-width="0.8" />
<ellipse cx="315.1" cy="196.8" rx="1.7" ry="1.1" fill="#C8A45C"/>
<polyline points="320.7,196.8 325.5,201.2 327.5,199.2" fill="none" stroke="#B4BCB0" stroke-width="0.8" opacity="0.9"/>
<line x1="327.50" y1="199.25" x2="327.80" y2="193.15" stroke="#9A8CC0" stroke-width="0.7" opacity="0.8"/>
<line x1="325.50" y1="201.15" x2="330.30" y2="204.65" stroke="#A9CFD6" stroke-width="0.8" />
<ellipse cx="330.5" cy="196.8" rx="1.7" ry="1.1" fill="#C8A45C"/>
<polyline points="336.1,196.8 340.9,201.2 342.9,199.2" fill="none" stroke="#B4BCB0" stroke-width="0.8" opacity="0.9"/>
<line x1="342.90" y1="199.25" x2="343.20" y2="193.15" stroke="#9A8CC0" stroke-width="0.7" opacity="0.8"/>
<line x1="340.90" y1="201.15" x2="345.70" y2="204.65" stroke="#A9CFD6" stroke-width="0.8" />
<ellipse cx="345.9" cy="196.8" rx="1.7" ry="1.1" fill="#C8A45C"/>
<polyline points="351.5,196.8 356.3,201.2 358.3,199.2" fill="none" stroke="#B4BCB0" stroke-width="0.8" opacity="0.9"/>
<line x1="358.30" y1="199.25" x2="358.60" y2="193.15" stroke="#9A8CC0" stroke-width="0.7" opacity="0.8"/>
<line x1="356.30" y1="201.15" x2="361.10" y2="204.65" stroke="#A9CFD6" stroke-width="0.8" />
<ellipse cx="361.3" cy="196.8" rx="1.7" ry="1.1" fill="#C8A45C"/>
<polyline points="366.9,196.8 371.7,201.2 373.7,199.2" fill="none" stroke="#B4BCB0" stroke-width="0.8" opacity="0.9"/>
<line x1="373.70" y1="199.25" x2="374.00" y2="193.15" stroke="#9A8CC0" stroke-width="0.7" opacity="0.8"/>
<line x1="371.70" y1="201.15" x2="376.50" y2="204.65" stroke="#A9CFD6" stroke-width="0.8" />
<ellipse cx="376.7" cy="196.8" rx="1.7" ry="1.1" fill="#C8A45C"/>
<line x1="305.50" y1="208.80" x2="383.00" y2="208.80" stroke="#9088C4" stroke-width="0.8" />
<line x1="303.00" y1="212.20" x2="383.00" y2="212.20" stroke="#A7C9CE" stroke-width="1.1" />
<polyline points="305.3,212.2 310.1,216.5 312.1,214.6" fill="none" stroke="#B4BCB0" stroke-width="0.8" opacity="0.9"/>
<line x1="312.10" y1="214.60" x2="312.40" y2="208.50" stroke="#9A8CC0" stroke-width="0.7" opacity="0.8"/>
<line x1="310.10" y1="216.50" x2="314.90" y2="220.00" stroke="#A9CFD6" stroke-width="0.8" />
<ellipse cx="315.1" cy="212.2" rx="1.7" ry="1.1" fill="#C8A45C"/>
<polyline points="320.7,212.2 325.5,216.5 327.5,214.6" fill="none" stroke="#B4BCB0" stroke-width="0.8" opacity="0.9"/>
<line x1="327.50" y1="214.60" x2="327.80" y2="208.50" stroke="#9A8CC0" stroke-width="0.7" opacity="0.8"/>
<line x1="325.50" y1="216.50" x2="330.30" y2="220.00" stroke="#A9CFD6" stroke-width="0.8" />
<ellipse cx="330.5" cy="212.2" rx="1.7" ry="1.1" fill="#C8A45C"/>
<polyline points="336.1,212.2 340.9,216.5 342.9,214.6" fill="none" stroke="#B4BCB0" stroke-width="0.8" opacity="0.9"/>
<line x1="342.90" y1="214.60" x2="343.20" y2="208.50" stroke="#9A8CC0" stroke-width="0.7" opacity="0.8"/>
<line x1="340.90" y1="216.50" x2="345.70" y2="220.00" stroke="#A9CFD6" stroke-width="0.8" />
<ellipse cx="345.9" cy="212.2" rx="1.7" ry="1.1" fill="#C8A45C"/>
<polyline points="351.5,212.2 356.3,216.5 358.3,214.6" fill="none" stroke="#B4BCB0" stroke-width="0.8" opacity="0.9"/>
<line x1="358.30" y1="214.60" x2="358.60" y2="208.50" stroke="#9A8CC0" stroke-width="0.7" opacity="0.8"/>
<line x1="356.30" y1="216.50" x2="361.10" y2="220.00" stroke="#A9CFD6" stroke-width="0.8" />
<ellipse cx="361.3" cy="212.2" rx="1.7" ry="1.1" fill="#C8A45C"/>
<polyline points="366.9,212.2 371.7,216.5 373.7,214.6" fill="none" stroke="#B4BCB0" stroke-width="0.8" opacity="0.9"/>
<line x1="373.70" y1="214.60" x2="374.00" y2="208.50" stroke="#9A8CC0" stroke-width="0.7" opacity="0.8"/>
<line x1="371.70" y1="216.50" x2="376.50" y2="220.00" stroke="#A9CFD6" stroke-width="0.8" />
<ellipse cx="376.7" cy="212.2" rx="1.7" ry="1.1" fill="#C8A45C"/>
<line x1="305.50" y1="224.15" x2="383.00" y2="224.15" stroke="#9088C4" stroke-width="0.8" />
<line x1="303.00" y1="227.55" x2="383.00" y2="227.55" stroke="#A7C9CE" stroke-width="1.1" />
<polyline points="305.3,227.5 310.1,231.8 312.1,229.9" fill="none" stroke="#B4BCB0" stroke-width="0.8" opacity="0.9"/>
<line x1="312.10" y1="229.95" x2="312.40" y2="223.85" stroke="#9A8CC0" stroke-width="0.7" opacity="0.8"/>
<line x1="310.10" y1="231.85" x2="314.90" y2="235.35" stroke="#A9CFD6" stroke-width="0.8" />
<ellipse cx="315.1" cy="227.5" rx="1.7" ry="1.1" fill="#C8A45C"/>
<polyline points="320.7,227.5 325.5,231.8 327.5,229.9" fill="none" stroke="#B4BCB0" stroke-width="0.8" opacity="0.9"/>
<line x1="327.50" y1="229.95" x2="327.80" y2="223.85" stroke="#9A8CC0" stroke-width="0.7" opacity="0.8"/>
<line x1="325.50" y1="231.85" x2="330.30" y2="235.35" stroke="#A9CFD6" stroke-width="0.8" />
<ellipse cx="330.5" cy="227.5" rx="1.7" ry="1.1" fill="#C8A45C"/>
<polyline points="336.1,227.5 340.9,231.8 342.9,229.9" fill="none" stroke="#B4BCB0" stroke-width="0.8" opacity="0.9"/>
<line x1="342.90" y1="229.95" x2="343.20" y2="223.85" stroke="#9A8CC0" stroke-width="0.7" opacity="0.8"/>
<line x1="340.90" y1="231.85" x2="345.70" y2="235.35" stroke="#A9CFD6" stroke-width="0.8" />
<ellipse cx="345.9" cy="227.5" rx="1.7" ry="1.1" fill="#C8A45C"/>
<polyline points="351.5,227.5 356.3,231.8 358.3,229.9" fill="none" stroke="#B4BCB0" stroke-width="0.8" opacity="0.9"/>
<line x1="358.30" y1="229.95" x2="358.60" y2="223.85" stroke="#9A8CC0" stroke-width="0.7" opacity="0.8"/>
<line x1="356.30" y1="231.85" x2="361.10" y2="235.35" stroke="#A9CFD6" stroke-width="0.8" />
<ellipse cx="361.3" cy="227.5" rx="1.7" ry="1.1" fill="#C8A45C"/>
<polyline points="366.9,227.5 371.7,231.8 373.7,229.9" fill="none" stroke="#B4BCB0" stroke-width="0.8" opacity="0.9"/>
<line x1="373.70" y1="229.95" x2="374.00" y2="223.85" stroke="#9A8CC0" stroke-width="0.7" opacity="0.8"/>
<line x1="371.70" y1="231.85" x2="376.50" y2="235.35" stroke="#A9CFD6" stroke-width="0.8" />
<ellipse cx="376.7" cy="227.5" rx="1.7" ry="1.1" fill="#C8A45C"/>
<line x1="305.50" y1="239.50" x2="383.00" y2="239.50" stroke="#9088C4" stroke-width="0.8" />
<line x1="303.00" y1="242.90" x2="383.00" y2="242.90" stroke="#A7C9CE" stroke-width="1.1" />
<polyline points="305.3,242.9 310.1,247.2 312.1,245.3" fill="none" stroke="#B4BCB0" stroke-width="0.8" opacity="0.9"/>
<line x1="312.10" y1="245.30" x2="312.40" y2="239.20" stroke="#9A8CC0" stroke-width="0.7" opacity="0.8"/>
<line x1="310.10" y1="247.20" x2="314.90" y2="250.70" stroke="#A9CFD6" stroke-width="0.8" />
<ellipse cx="315.1" cy="242.9" rx="1.7" ry="1.1" fill="#C8A45C"/>
<polyline points="320.7,242.9 325.5,247.2 327.5,245.3" fill="none" stroke="#B4BCB0" stroke-width="0.8" opacity="0.9"/>
<line x1="327.50" y1="245.30" x2="327.80" y2="239.20" stroke="#9A8CC0" stroke-width="0.7" opacity="0.8"/>
<line x1="325.50" y1="247.20" x2="330.30" y2="250.70" stroke="#A9CFD6" stroke-width="0.8" />
<ellipse cx="330.5" cy="242.9" rx="1.7" ry="1.1" fill="#C8A45C"/>
<polyline points="336.1,242.9 340.9,247.2 342.9,245.3" fill="none" stroke="#B4BCB0" stroke-width="0.8" opacity="0.9"/>
<line x1="342.90" y1="245.30" x2="343.20" y2="239.20" stroke="#9A8CC0" stroke-width="0.7" opacity="0.8"/>
<line x1="340.90" y1="247.20" x2="345.70" y2="250.70" stroke="#A9CFD6" stroke-width="0.8" />
<ellipse cx="345.9" cy="242.9" rx="1.7" ry="1.1" fill="#C8A45C"/>
<polyline points="351.5,242.9 356.3,247.2 358.3,245.3" fill="none" stroke="#B4BCB0" stroke-width="0.8" opacity="0.9"/>
<line x1="358.30" y1="245.30" x2="358.60" y2="239.20" stroke="#9A8CC0" stroke-width="0.7" opacity="0.8"/>
<line x1="356.30" y1="247.20" x2="361.10" y2="250.70" stroke="#A9CFD6" stroke-width="0.8" />
<ellipse cx="361.3" cy="242.9" rx="1.7" ry="1.1" fill="#C8A45C"/>
<polyline points="366.9,242.9 371.7,247.2 373.7,245.3" fill="none" stroke="#B4BCB0" stroke-width="0.8" opacity="0.9"/>
<line x1="373.70" y1="245.30" x2="374.00" y2="239.20" stroke="#9A8CC0" stroke-width="0.7" opacity="0.8"/>
<line x1="371.70" y1="247.20" x2="376.50" y2="250.70" stroke="#A9CFD6" stroke-width="0.8" />
<ellipse cx="376.7" cy="242.9" rx="1.7" ry="1.1" fill="#C8A45C"/>
<line x1="305.50" y1="254.85" x2="383.00" y2="254.85" stroke="#9088C4" stroke-width="0.8" />
<line x1="303.00" y1="258.25" x2="383.00" y2="258.25" stroke="#A7C9CE" stroke-width="1.1" />
<polyline points="305.3,258.2 310.1,262.5 312.1,260.6" fill="none" stroke="#B4BCB0" stroke-width="0.8" opacity="0.9"/>
<line x1="312.10" y1="260.65" x2="312.40" y2="254.55" stroke="#9A8CC0" stroke-width="0.7" opacity="0.8"/>
<line x1="310.10" y1="262.55" x2="314.90" y2="266.05" stroke="#A9CFD6" stroke-width="0.8" />
<ellipse cx="315.1" cy="258.2" rx="1.7" ry="1.1" fill="#C8A45C"/>
<polyline points="320.7,258.2 325.5,262.5 327.5,260.6" fill="none" stroke="#B4BCB0" stroke-width="0.8" opacity="0.9"/>
<line x1="327.50" y1="260.65" x2="327.80" y2="254.55" stroke="#9A8CC0" stroke-width="0.7" opacity="0.8"/>
<line x1="325.50" y1="262.55" x2="330.30" y2="266.05" stroke="#A9CFD6" stroke-width="0.8" />
<ellipse cx="330.5" cy="258.2" rx="1.7" ry="1.1" fill="#C8A45C"/>
<polyline points="336.1,258.2 340.9,262.5 342.9,260.6" fill="none" stroke="#B4BCB0" stroke-width="0.8" opacity="0.9"/>
<line x1="342.90" y1="260.65" x2="343.20" y2="254.55" stroke="#9A8CC0" stroke-width="0.7" opacity="0.8"/>
<line x1="340.90" y1="262.55" x2="345.70" y2="266.05" stroke="#A9CFD6" stroke-width="0.8" />
<ellipse cx="345.9" cy="258.2" rx="1.7" ry="1.1" fill="#C8A45C"/>
<polyline points="351.5,258.2 356.3,262.5 358.3,260.6" fill="none" stroke="#B4BCB0" stroke-width="0.8" opacity="0.9"/>
<line x1="358.30" y1="260.65" x2="358.60" y2="254.55" stroke="#9A8CC0" stroke-width="0.7" opacity="0.8"/>
<line x1="356.30" y1="262.55" x2="361.10" y2="266.05" stroke="#A9CFD6" stroke-width="0.8" />
<ellipse cx="361.3" cy="258.2" rx="1.7" ry="1.1" fill="#C8A45C"/>
<polyline points="366.9,258.2 371.7,262.5 373.7,260.6" fill="none" stroke="#B4BCB0" stroke-width="0.8" opacity="0.9"/>
<line x1="373.70" y1="260.65" x2="374.00" y2="254.55" stroke="#9A8CC0" stroke-width="0.7" opacity="0.8"/>
<line x1="371.70" y1="262.55" x2="376.50" y2="266.05" stroke="#A9CFD6" stroke-width="0.8" />
<ellipse cx="376.7" cy="258.2" rx="1.7" ry="1.1" fill="#C8A45C"/>
<line x1="305.50" y1="270.20" x2="383.00" y2="270.20" stroke="#9088C4" stroke-width="0.8" />
<line x1="303.00" y1="273.60" x2="383.00" y2="273.60" stroke="#A7C9CE" stroke-width="1.1" />
<polyline points="305.3,273.6 310.1,277.9 312.1,276.0" fill="none" stroke="#B4BCB0" stroke-width="0.8" opacity="0.9"/>
<line x1="312.10" y1="276.00" x2="312.40" y2="269.90" stroke="#9A8CC0" stroke-width="0.7" opacity="0.8"/>
<line x1="310.10" y1="277.90" x2="314.90" y2="281.40" stroke="#A9CFD6" stroke-width="0.8" />
<ellipse cx="315.1" cy="273.6" rx="1.7" ry="1.1" fill="#C8A45C"/>
<polyline points="320.7,273.6 325.5,277.9 327.5,276.0" fill="none" stroke="#B4BCB0" stroke-width="0.8" opacity="0.9"/>
<line x1="327.50" y1="276.00" x2="327.80" y2="269.90" stroke="#9A8CC0" stroke-width="0.7" opacity="0.8"/>
<line x1="325.50" y1="277.90" x2="330.30" y2="281.40" stroke="#A9CFD6" stroke-width="0.8" />
<ellipse cx="330.5" cy="273.6" rx="1.7" ry="1.1" fill="#C8A45C"/>
<polyline points="336.1,273.6 340.9,277.9 342.9,276.0" fill="none" stroke="#B4BCB0" stroke-width="0.8" opacity="0.9"/>
<line x1="342.90" y1="276.00" x2="343.20" y2="269.90" stroke="#9A8CC0" stroke-width="0.7" opacity="0.8"/>
<line x1="340.90" y1="277.90" x2="345.70" y2="281.40" stroke="#A9CFD6" stroke-width="0.8" />
<ellipse cx="345.9" cy="273.6" rx="1.7" ry="1.1" fill="#C8A45C"/>
<polyline points="351.5,273.6 356.3,277.9 358.3,276.0" fill="none" stroke="#B4BCB0" stroke-width="0.8" opacity="0.9"/>
<line x1="358.30" y1="276.00" x2="358.60" y2="269.90" stroke="#9A8CC0" stroke-width="0.7" opacity="0.8"/>
<line x1="356.30" y1="277.90" x2="361.10" y2="281.40" stroke="#A9CFD6" stroke-width="0.8" />
<ellipse cx="361.3" cy="273.6" rx="1.7" ry="1.1" fill="#C8A45C"/>
<polyline points="366.9,273.6 371.7,277.9 373.7,276.0" fill="none" stroke="#B4BCB0" stroke-width="0.8" opacity="0.9"/>
<line x1="373.70" y1="276.00" x2="374.00" y2="269.90" stroke="#9A8CC0" stroke-width="0.7" opacity="0.8"/>
<line x1="371.70" y1="277.90" x2="376.50" y2="281.40" stroke="#A9CFD6" stroke-width="0.8" />
<ellipse cx="376.7" cy="273.6" rx="1.7" ry="1.1" fill="#C8A45C"/>
<line x1="305.50" y1="285.55" x2="383.00" y2="285.55" stroke="#9088C4" stroke-width="0.8" />
<line x1="303.00" y1="288.95" x2="383.00" y2="288.95" stroke="#A7C9CE" stroke-width="1.1" />
<polyline points="305.3,288.9 310.1,293.2 312.1,291.3" fill="none" stroke="#B4BCB0" stroke-width="0.8" opacity="0.9"/>
<line x1="312.10" y1="291.35" x2="312.40" y2="285.25" stroke="#9A8CC0" stroke-width="0.7" opacity="0.8"/>
<line x1="310.10" y1="293.25" x2="314.90" y2="296.75" stroke="#A9CFD6" stroke-width="0.8" />
<ellipse cx="315.1" cy="288.9" rx="1.7" ry="1.1" fill="#C8A45C"/>
<polyline points="320.7,288.9 325.5,293.2 327.5,291.3" fill="none" stroke="#B4BCB0" stroke-width="0.8" opacity="0.9"/>
<line x1="327.50" y1="291.35" x2="327.80" y2="285.25" stroke="#9A8CC0" stroke-width="0.7" opacity="0.8"/>
<line x1="325.50" y1="293.25" x2="330.30" y2="296.75" stroke="#A9CFD6" stroke-width="0.8" />
<ellipse cx="330.5" cy="288.9" rx="1.7" ry="1.1" fill="#C8A45C"/>
<polyline points="336.1,288.9 340.9,293.2 342.9,291.3" fill="none" stroke="#B4BCB0" stroke-width="0.8" opacity="0.9"/>
<line x1="342.90" y1="291.35" x2="343.20" y2="285.25" stroke="#9A8CC0" stroke-width="0.7" opacity="0.8"/>
<line x1="340.90" y1="293.25" x2="345.70" y2="296.75" stroke="#A9CFD6" stroke-width="0.8" />
<ellipse cx="345.9" cy="288.9" rx="1.7" ry="1.1" fill="#C8A45C"/>
<polyline points="351.5,288.9 356.3,293.2 358.3,291.3" fill="none" stroke="#B4BCB0" stroke-width="0.8" opacity="0.9"/>
<line x1="358.30" y1="291.35" x2="358.60" y2="285.25" stroke="#9A8CC0" stroke-width="0.7" opacity="0.8"/>
<line x1="356.30" y1="293.25" x2="361.10" y2="296.75" stroke="#A9CFD6" stroke-width="0.8" />
<ellipse cx="361.3" cy="288.9" rx="1.7" ry="1.1" fill="#C8A45C"/>
<polyline points="366.9,288.9 371.7,293.2 373.7,291.3" fill="none" stroke="#B4BCB0" stroke-width="0.8" opacity="0.9"/>
<line x1="373.70" y1="291.35" x2="374.00" y2="285.25" stroke="#9A8CC0" stroke-width="0.7" opacity="0.8"/>
<line x1="371.70" y1="293.25" x2="376.50" y2="296.75" stroke="#A9CFD6" stroke-width="0.8" />
<ellipse cx="376.7" cy="288.9" rx="1.7" ry="1.1" fill="#C8A45C"/>
<line x1="305.50" y1="300.90" x2="383.00" y2="300.90" stroke="#9088C4" stroke-width="0.8" />
<line x1="303.00" y1="304.30" x2="383.00" y2="304.30" stroke="#A7C9CE" stroke-width="1.1" />
<polyline points="305.3,304.3 310.1,308.6 312.1,306.7" fill="none" stroke="#B4BCB0" stroke-width="0.8" opacity="0.9"/>
<line x1="312.10" y1="306.70" x2="312.40" y2="300.60" stroke="#9A8CC0" stroke-width="0.7" opacity="0.8"/>
<line x1="310.10" y1="308.60" x2="314.90" y2="312.10" stroke="#A9CFD6" stroke-width="0.8" />
<ellipse cx="315.1" cy="304.3" rx="1.7" ry="1.1" fill="#C8A45C"/>
<polyline points="320.7,304.3 325.5,308.6 327.5,306.7" fill="none" stroke="#B4BCB0" stroke-width="0.8" opacity="0.9"/>
<line x1="327.50" y1="306.70" x2="327.80" y2="300.60" stroke="#9A8CC0" stroke-width="0.7" opacity="0.8"/>
<line x1="325.50" y1="308.60" x2="330.30" y2="312.10" stroke="#A9CFD6" stroke-width="0.8" />
<ellipse cx="330.5" cy="304.3" rx="1.7" ry="1.1" fill="#C8A45C"/>
<polyline points="336.1,304.3 340.9,308.6 342.9,306.7" fill="none" stroke="#B4BCB0" stroke-width="0.8" opacity="0.9"/>
<line x1="342.90" y1="306.70" x2="343.20" y2="300.60" stroke="#9A8CC0" stroke-width="0.7" opacity="0.8"/>
<line x1="340.90" y1="308.60" x2="345.70" y2="312.10" stroke="#A9CFD6" stroke-width="0.8" />
<ellipse cx="345.9" cy="304.3" rx="1.7" ry="1.1" fill="#C8A45C"/>
<polyline points="351.5,304.3 356.3,308.6 358.3,306.7" fill="none" stroke="#B4BCB0" stroke-width="0.8" opacity="0.9"/>
<line x1="358.30" y1="306.70" x2="358.60" y2="300.60" stroke="#9A8CC0" stroke-width="0.7" opacity="0.8"/>
<line x1="356.30" y1="308.60" x2="361.10" y2="312.10" stroke="#A9CFD6" stroke-width="0.8" />
<ellipse cx="361.3" cy="304.3" rx="1.7" ry="1.1" fill="#C8A45C"/>
<polyline points="366.9,304.3 371.7,308.6 373.7,306.7" fill="none" stroke="#B4BCB0" stroke-width="0.8" opacity="0.9"/>
<line x1="373.70" y1="306.70" x2="374.00" y2="300.60" stroke="#9A8CC0" stroke-width="0.7" opacity="0.8"/>
<line x1="371.70" y1="308.60" x2="376.50" y2="312.10" stroke="#A9CFD6" stroke-width="0.8" />
<ellipse cx="376.7" cy="304.3" rx="1.7" ry="1.1" fill="#C8A45C"/>
</g>
<rect x="363.60" y="302.80" width="11.40" height="3.60" fill="#fff" />
<rect x="302.00" y="49.80" width="81.30" height="265.40" fill="none" stroke="#FF0000" stroke-width="2" stroke-dasharray="4 2"/>
<rect x="395.5" y="50.5" width="66.5" height="266.5" fill="#000" opacity="0.18" filter="url(#shd)"/>
<defs><filter id="shd" x="-20%" y="-20%" width="140%" height="140%"><feGaussianBlur stdDeviation="1.5"/></filter></defs>
<rect x="394.00" y="49.00" width="65.00" height="264.50" fill="url(#stripes)" />
<rect x="409.50" y="49.00" width="35.70" height="264.50" fill="url(#checker)" />
<rect x="445.00" y="49.00" width="14.00" height="120.00" fill="url(#rg)" />
<polygon points="394,49 406.5,49 394,108" fill="#5A9C98" opacity="0.6"/>
<rect x="438.20" y="302.60" width="13.80" height="3.90" fill="#fff" />
<rect x="393.10" y="48.20" width="66.70" height="266.10" fill="none" stroke="#000" stroke-width="2" />
<rect x="407.60" y="49.90" width="20.40" height="93.40" fill="none" stroke="#FF0000" stroke-width="2" stroke-dasharray="4 2"/>
<line x1="383.30" y1="49.60" x2="407.60" y2="49.60" stroke="#FF0000" stroke-width="1.8" stroke-dasharray="3.4 1.8"/>
<line x1="407.60" y1="143.30" x2="383.80" y2="180.00" stroke="#FF0000" stroke-width="1.6" stroke-dasharray="3.4 1.8"/>
<line x1="428.00" y1="143.30" x2="383.30" y2="315.20" stroke="#FF0000" stroke-width="1.6" stroke-dasharray="3.4 1.8"/>
<text x="472.20" y="14.60" font-size="20" font-weight="bold" fill="#000" textLength="17.40" lengthAdjust="spacingAndGlyphs">b<tspan dy="-1">)</tspan></text>
<text x="524.90" y="14.10" font-size="13.5" fill="#000" textLength="106.70" lengthAdjust="spacingAndGlyphs" >Expected Output</text>
<line x1="524.90" y1="15.50" x2="631.60" y2="15.50" stroke="#000" stroke-width="1.0" />
<rect x="508.60" y="19.60" width="27.22" height="26.12" fill="#c1e068" />
<rect x="534.82" y="19.60" width="27.22" height="26.12" fill="#158a68" />
<rect x="561.04" y="19.60" width="27.22" height="26.12" fill="#55aa68" />
<rect x="587.26" y="19.60" width="27.22" height="26.12" fill="#55aa68" />
<rect x="613.48" y="19.60" width="26.22" height="26.12" fill="#008068" />
<rect x="508.60" y="44.72" width="27.22" height="26.12" fill="#158a68" />
<rect x="534.82" y="44.72" width="27.22" height="26.12" fill="#c1e068" />
<rect x="561.04" y="44.72" width="27.22" height="26.12" fill="#55aa68" />
<rect x="587.26" y="44.72" width="27.22" height="26.12" fill="#008068" />
<rect x="613.48" y="44.72" width="26.22" height="26.12" fill="#55aa68" />
<rect x="508.60" y="69.84" width="27.22" height="26.12" fill="#55aa68" />
<rect x="534.82" y="69.84" width="27.22" height="26.12" fill="#55aa68" />
<rect x="561.04" y="69.84" width="27.22" height="26.12" fill="#acd668" />
<rect x="587.26" y="69.84" width="27.22" height="26.12" fill="#55aa68" />
<rect x="613.48" y="69.84" width="26.22" height="26.12" fill="#55aa68" />
<rect x="508.60" y="94.96" width="27.22" height="26.12" fill="#55aa68" />
<rect x="534.82" y="94.96" width="27.22" height="26.12" fill="#55aa68" />
<rect x="561.04" y="94.96" width="27.22" height="26.12" fill="#55aa68" />
<rect x="587.26" y="94.96" width="27.22" height="26.12" fill="#ffff68" />
<rect x="613.48" y="94.96" width="26.22" height="26.12" fill="#acd668" />
<rect x="508.60" y="120.08" width="27.22" height="25.12" fill="#008068" />
<rect x="534.82" y="120.08" width="27.22" height="25.12" fill="#acd668" />
<rect x="561.04" y="120.08" width="27.22" height="25.12" fill="#55aa68" />
<rect x="587.26" y="120.08" width="27.22" height="25.12" fill="#acd668" />
<rect x="613.48" y="120.08" width="26.22" height="25.12" fill="#ffff68" />
<rect x="508.60" y="19.60" width="131.10" height="125.60" fill="none" stroke="#3a3a3a" stroke-width="0.7" />
<defs><linearGradient id="cb_b" x1="0" x2="0" y1="1" y2="0"><stop offset="0" stop-color="#008068"/><stop offset="1" stop-color="#ffff68"/></linearGradient></defs>
<rect x="645.00" y="19.50" width="10.10" height="125.70" fill="url(#cb_b)" stroke="#3a3a3a" stroke-width="0.7" />
<line x1="653.30" y1="145.20" x2="655.10" y2="145.20" stroke="#262626" stroke-width="0.6" />
<text x="657.50" y="148.20" font-size="8.5" fill="#262626" >0</text>
<line x1="653.30" y1="124.25" x2="655.10" y2="124.25" stroke="#262626" stroke-width="0.6" />
<text x="657.50" y="127.25" font-size="8.5" fill="#262626" >2</text>
<line x1="653.30" y1="103.30" x2="655.10" y2="103.30" stroke="#262626" stroke-width="0.6" />
<text x="657.50" y="106.30" font-size="8.5" fill="#262626" >4</text>
<line x1="653.30" y1="82.35" x2="655.10" y2="82.35" stroke="#262626" stroke-width="0.6" />
<text x="657.50" y="85.35" font-size="8.5" fill="#262626" >6</text>
<line x1="653.30" y1="61.40" x2="655.10" y2="61.40" stroke="#262626" stroke-width="0.6" />
<text x="657.50" y="64.40" font-size="8.5" fill="#262626" >8</text>
<line x1="653.30" y1="40.45" x2="655.10" y2="40.45" stroke="#262626" stroke-width="0.6" />
<text x="657.50" y="43.45" font-size="8.5" fill="#262626" >10</text>
<line x1="653.30" y1="19.50" x2="655.10" y2="19.50" stroke="#262626" stroke-width="0.6" />
<text x="657.50" y="22.50" font-size="8.5" fill="#262626" >12</text>
<text x="504.40" y="35.16" font-size="8.5" fill="#262626" text-anchor="end" >1</text>
<text x="521.71" y="158.00" font-size="8.5" fill="#262626" text-anchor="middle" >1</text>
<text x="504.40" y="60.28" font-size="8.5" fill="#262626" text-anchor="end" >2</text>
<text x="547.93" y="158.00" font-size="8.5" fill="#262626" text-anchor="middle" >2</text>
<text x="504.40" y="85.40" font-size="8.5" fill="#262626" text-anchor="end" >3</text>
<text x="574.15" y="158.00" font-size="8.5" fill="#262626" text-anchor="middle" >3</text>
<text x="504.40" y="110.52" font-size="8.5" fill="#262626" text-anchor="end" >4</text>
<text x="600.37" y="158.00" font-size="8.5" fill="#262626" text-anchor="middle" >4</text>
<text x="504.40" y="135.64" font-size="8.5" fill="#262626" text-anchor="end" >5</text>
<text x="626.59" y="158.00" font-size="8.5" fill="#262626" text-anchor="middle" >5</text>
<text x="573.70" y="170.20" font-size="9.9" fill="#262626" text-anchor="middle" textLength="23.20" lengthAdjust="spacingAndGlyphs" >Node</text>
<text transform="translate(495.70 82.60) rotate(-90)" x="0" y="0" font-size="9.9" fill="#262626" text-anchor="middle" textLength="53.10" lengthAdjust="spacingAndGlyphs">Input Shape</text>
<text transform="translate(675.60 85.20) rotate(90)" x="0" y="0" font-size="11.2" fill="#262626" text-anchor="middle" textLength="93.00" lengthAdjust="spacingAndGlyphs">Output (arb. units)</text>
<text x="472.50" y="186.90" font-size="20" font-weight="bold" fill="#000" textLength="15.70" lengthAdjust="spacingAndGlyphs">c<tspan dy="-1">)</tspan></text>
<text x="508.10" y="185.90" font-size="13.5" fill="#000" textLength="132.30" lengthAdjust="spacingAndGlyphs" >Experimental Output</text>
<line x1="508.10" y1="188.50" x2="640.40" y2="188.50" stroke="#000" stroke-width="1.0" />
<rect x="508.60" y="191.70" width="27.22" height="26.10" fill="#cfe768" />
<rect x="534.82" y="191.70" width="27.22" height="26.10" fill="#249168" />
<rect x="561.04" y="191.70" width="27.22" height="26.10" fill="#4ca668" />
<rect x="587.26" y="191.70" width="27.22" height="26.10" fill="#6eb668" />
<rect x="613.48" y="191.70" width="26.22" height="26.10" fill="#0d8668" />
<rect x="508.60" y="216.80" width="27.22" height="26.10" fill="#269368" />
<rect x="534.82" y="216.80" width="27.22" height="26.10" fill="#b5da68" />
<rect x="561.04" y="216.80" width="27.22" height="26.10" fill="#69b468" />
<rect x="587.26" y="216.80" width="27.22" height="26.10" fill="#008068" />
<rect x="613.48" y="216.80" width="26.22" height="26.10" fill="#3d9e68" />
<rect x="508.60" y="241.90" width="27.22" height="26.10" fill="#69b468" />
<rect x="534.82" y="241.90" width="27.22" height="26.10" fill="#4aa468" />
<rect x="561.04" y="241.90" width="27.22" height="26.10" fill="#b5da68" />
<rect x="587.26" y="241.90" width="27.22" height="26.10" fill="#69b468" />
<rect x="613.48" y="241.90" width="26.22" height="26.10" fill="#3b9d68" />
<rect x="508.60" y="267.00" width="27.22" height="26.10" fill="#69b468" />
<rect x="534.82" y="267.00" width="27.22" height="26.10" fill="#59ac68" />
<rect x="561.04" y="267.00" width="27.22" height="26.10" fill="#52a868" />
<rect x="587.26" y="267.00" width="27.22" height="26.10" fill="#ffff68" />
<rect x="613.48" y="267.00" width="26.22" height="26.10" fill="#8cc668" />
<rect x="508.60" y="292.10" width="27.22" height="25.10" fill="#0f8768" />
<rect x="534.82" y="292.10" width="27.22" height="25.10" fill="#a1d068" />
<rect x="561.04" y="292.10" width="27.22" height="25.10" fill="#6bb568" />
<rect x="587.26" y="292.10" width="27.22" height="25.10" fill="#8cc668" />
<rect x="613.48" y="292.10" width="26.22" height="25.10" fill="#c2e068" />
<rect x="508.60" y="191.70" width="131.10" height="125.50" fill="none" stroke="#3a3a3a" stroke-width="0.7" />
<defs><linearGradient id="cb_c" x1="0" x2="0" y1="1" y2="0"><stop offset="0" stop-color="#008068"/><stop offset="1" stop-color="#ffff68"/></linearGradient></defs>
<rect x="645.00" y="191.70" width="10.10" height="125.50" fill="url(#cb_c)" stroke="#3a3a3a" stroke-width="0.7" />
<line x1="653.30" y1="288.40" x2="655.10" y2="288.40" stroke="#262626" stroke-width="0.6" />
<text x="657.50" y="291.40" font-size="8.5" fill="#262626" >50</text>
<line x1="653.30" y1="260.10" x2="655.10" y2="260.10" stroke="#262626" stroke-width="0.6" />
<text x="657.50" y="263.10" font-size="8.5" fill="#262626" >100</text>
<line x1="653.30" y1="231.90" x2="655.10" y2="231.90" stroke="#262626" stroke-width="0.6" />
<text x="657.50" y="234.90" font-size="8.5" fill="#262626" >150</text>
<line x1="653.30" y1="201.70" x2="655.10" y2="201.70" stroke="#262626" stroke-width="0.6" />
<text x="657.50" y="204.70" font-size="8.5" fill="#262626" >200</text>
<text x="504.40" y="207.25" font-size="8.5" fill="#262626" text-anchor="end" >1</text>
<text x="521.71" y="330.00" font-size="8.5" fill="#262626" text-anchor="middle" >1</text>
<text x="504.40" y="232.35" font-size="8.5" fill="#262626" text-anchor="end" >2</text>
<text x="547.93" y="330.00" font-size="8.5" fill="#262626" text-anchor="middle" >2</text>
<text x="504.40" y="257.45" font-size="8.5" fill="#262626" text-anchor="end" >3</text>
<text x="574.15" y="330.00" font-size="8.5" fill="#262626" text-anchor="middle" >3</text>
<text x="504.40" y="282.55" font-size="8.5" fill="#262626" text-anchor="end" >4</text>
<text x="600.37" y="330.00" font-size="8.5" fill="#262626" text-anchor="middle" >4</text>
<text x="504.40" y="307.65" font-size="8.5" fill="#262626" text-anchor="end" >5</text>
<text x="626.59" y="330.00" font-size="8.5" fill="#262626" text-anchor="middle" >5</text>
<text x="573.70" y="342.50" font-size="9.9" fill="#262626" text-anchor="middle" textLength="23.20" lengthAdjust="spacingAndGlyphs" >Node</text>
<text transform="translate(495.70 254.50) rotate(-90)" x="0" y="0" font-size="9.9" fill="#262626" text-anchor="middle" textLength="53.10" lengthAdjust="spacingAndGlyphs">Input Shape</text>
<text transform="translate(675.50 254.70) rotate(90)" x="0" y="0" font-size="10.9" fill="#262626" text-anchor="middle" textLength="95.20" lengthAdjust="spacingAndGlyphs">Output Current (nA)</text>
<text x="2.50" y="372.50" font-size="20" font-weight="bold" fill="#000" textLength="17.20" lengthAdjust="spacingAndGlyphs">d<tspan dy="-1">)</tspan></text>
<text x="61.30" y="361.50" font-size="13.5" fill="#000" textLength="88.20" lengthAdjust="spacingAndGlyphs" >Heterosynaptic</text>
<line x1="61.30" y1="363.50" x2="149.50" y2="363.50" stroke="#000" stroke-width="1.0" />
<text x="49.00" y="378.20" font-size="13.5" fill="#000" textLength="112.50" lengthAdjust="spacingAndGlyphs" >Weight Modulation</text>
<line x1="49.00" y1="380.50" x2="161.50" y2="380.50" stroke="#000" stroke-width="1.0" />
<rect x="55.50" y="391.70" width="119.30" height="114.30" fill="#fff" />
<line x1="55.50" y1="502.16" x2="56.90" y2="502.16" stroke="#111" stroke-width="0.7" />
<line x1="174.80" y1="502.16" x2="173.40" y2="502.16" stroke="#111" stroke-width="0.7" />
<line x1="55.50" y1="499.47" x2="56.90" y2="499.47" stroke="#111" stroke-width="0.7" />
<line x1="174.80" y1="499.47" x2="173.40" y2="499.47" stroke="#111" stroke-width="0.7" />
<line x1="55.50" y1="497.56" x2="56.90" y2="497.56" stroke="#111" stroke-width="0.7" />
<line x1="174.80" y1="497.56" x2="173.40" y2="497.56" stroke="#111" stroke-width="0.7" />
<line x1="55.50" y1="496.08" x2="56.90" y2="496.08" stroke="#111" stroke-width="0.7" />
<line x1="174.80" y1="496.08" x2="173.40" y2="496.08" stroke="#111" stroke-width="0.7" />
<line x1="55.50" y1="494.87" x2="56.90" y2="494.87" stroke="#111" stroke-width="0.7" />
<line x1="174.80" y1="494.87" x2="173.40" y2="494.87" stroke="#111" stroke-width="0.7" />
<line x1="55.50" y1="493.85" x2="56.90" y2="493.85" stroke="#111" stroke-width="0.7" />
<line x1="174.80" y1="493.85" x2="173.40" y2="493.85" stroke="#111" stroke-width="0.7" />
<line x1="55.50" y1="492.96" x2="56.90" y2="492.96" stroke="#111" stroke-width="0.7" />
<line x1="174.80" y1="492.96" x2="173.40" y2="492.96" stroke="#111" stroke-width="0.7" />
<line x1="55.50" y1="492.18" x2="56.90" y2="492.18" stroke="#111" stroke-width="0.7" />
<line x1="174.80" y1="492.18" x2="173.40" y2="492.18" stroke="#111" stroke-width="0.7" />
<line x1="55.50" y1="491.48" x2="58.10" y2="491.48" stroke="#111" stroke-width="1.0" />
<line x1="174.80" y1="491.48" x2="172.20" y2="491.48" stroke="#111" stroke-width="1.0" />
<line x1="55.50" y1="486.88" x2="56.90" y2="486.88" stroke="#111" stroke-width="0.7" />
<line x1="174.80" y1="486.88" x2="173.40" y2="486.88" stroke="#111" stroke-width="0.7" />
<line x1="55.50" y1="484.19" x2="56.90" y2="484.19" stroke="#111" stroke-width="0.7" />
<line x1="174.80" y1="484.19" x2="173.40" y2="484.19" stroke="#111" stroke-width="0.7" />
<line x1="55.50" y1="482.28" x2="56.90" y2="482.28" stroke="#111" stroke-width="0.7" />
<line x1="174.80" y1="482.28" x2="173.40" y2="482.28" stroke="#111" stroke-width="0.7" />
<line x1="55.50" y1="480.80" x2="56.90" y2="480.80" stroke="#111" stroke-width="0.7" />
<line x1="174.80" y1="480.80" x2="173.40" y2="480.80" stroke="#111" stroke-width="0.7" />
<line x1="55.50" y1="479.59" x2="56.90" y2="479.59" stroke="#111" stroke-width="0.7" />
<line x1="174.80" y1="479.59" x2="173.40" y2="479.59" stroke="#111" stroke-width="0.7" />
<line x1="55.50" y1="478.57" x2="56.90" y2="478.57" stroke="#111" stroke-width="0.7" />
<line x1="174.80" y1="478.57" x2="173.40" y2="478.57" stroke="#111" stroke-width="0.7" />
<line x1="55.50" y1="477.68" x2="56.90" y2="477.68" stroke="#111" stroke-width="0.7" />
<line x1="174.80" y1="477.68" x2="173.40" y2="477.68" stroke="#111" stroke-width="0.7" />
<line x1="55.50" y1="476.90" x2="56.90" y2="476.90" stroke="#111" stroke-width="0.7" />
<line x1="174.80" y1="476.90" x2="173.40" y2="476.90" stroke="#111" stroke-width="0.7" />
<line x1="55.50" y1="476.20" x2="58.10" y2="476.20" stroke="#111" stroke-width="1.0" />
<line x1="174.80" y1="476.20" x2="172.20" y2="476.20" stroke="#111" stroke-width="1.0" />
<line x1="55.50" y1="471.60" x2="56.90" y2="471.60" stroke="#111" stroke-width="0.7" />
<line x1="174.80" y1="471.60" x2="173.40" y2="471.60" stroke="#111" stroke-width="0.7" />
<line x1="55.50" y1="468.91" x2="56.90" y2="468.91" stroke="#111" stroke-width="0.7" />
<line x1="174.80" y1="468.91" x2="173.40" y2="468.91" stroke="#111" stroke-width="0.7" />
<line x1="55.50" y1="467.00" x2="56.90" y2="467.00" stroke="#111" stroke-width="0.7" />
<line x1="174.80" y1="467.00" x2="173.40" y2="467.00" stroke="#111" stroke-width="0.7" />
<line x1="55.50" y1="465.52" x2="56.90" y2="465.52" stroke="#111" stroke-width="0.7" />
<line x1="174.80" y1="465.52" x2="173.40" y2="465.52" stroke="#111" stroke-width="0.7" />
<line x1="55.50" y1="464.31" x2="56.90" y2="464.31" stroke="#111" stroke-width="0.7" />
<line x1="174.80" y1="464.31" x2="173.40" y2="464.31" stroke="#111" stroke-width="0.7" />
<line x1="55.50" y1="463.29" x2="56.90" y2="463.29" stroke="#111" stroke-width="0.7" />
<line x1="174.80" y1="463.29" x2="173.40" y2="463.29" stroke="#111" stroke-width="0.7" />
<line x1="55.50" y1="462.40" x2="56.90" y2="462.40" stroke="#111" stroke-width="0.7" />
<line x1="174.80" y1="462.40" x2="173.40" y2="462.40" stroke="#111" stroke-width="0.7" />
<line x1="55.50" y1="461.62" x2="56.90" y2="461.62" stroke="#111" stroke-width="0.7" />
<line x1="174.80" y1="461.62" x2="173.40" y2="461.62" stroke="#111" stroke-width="0.7" />
<line x1="55.50" y1="460.92" x2="58.10" y2="460.92" stroke="#111" stroke-width="1.0" />
<line x1="174.80" y1="460.92" x2="172.20" y2="460.92" stroke="#111" stroke-width="1.0" />
<line x1="55.50" y1="456.32" x2="56.90" y2="456.32" stroke="#111" stroke-width="0.7" />
<line x1="174.80" y1="456.32" x2="173.40" y2="456.32" stroke="#111" stroke-width="0.7" />
<line x1="55.50" y1="453.63" x2="56.90" y2="453.63" stroke="#111" stroke-width="0.7" />
<line x1="174.80" y1="453.63" x2="173.40" y2="453.63" stroke="#111" stroke-width="0.7" />
<line x1="55.50" y1="451.72" x2="56.90" y2="451.72" stroke="#111" stroke-width="0.7" />
<line x1="174.80" y1="451.72" x2="173.40" y2="451.72" stroke="#111" stroke-width="0.7" />
<line x1="55.50" y1="450.24" x2="56.90" y2="450.24" stroke="#111" stroke-width="0.7" />
<line x1="174.80" y1="450.24" x2="173.40" y2="450.24" stroke="#111" stroke-width="0.7" />
<line x1="55.50" y1="449.03" x2="56.90" y2="449.03" stroke="#111" stroke-width="0.7" />
<line x1="174.80" y1="449.03" x2="173.40" y2="449.03" stroke="#111" stroke-width="0.7" />
<line x1="55.50" y1="448.01" x2="56.90" y2="448.01" stroke="#111" stroke-width="0.7" />
<line x1="174.80" y1="448.01" x2="173.40" y2="448.01" stroke="#111" stroke-width="0.7" />
<line x1="55.50" y1="447.12" x2="56.90" y2="447.12" stroke="#111" stroke-width="0.7" />
<line x1="174.80" y1="447.12" x2="173.40" y2="447.12" stroke="#111" stroke-width="0.7" />
<line x1="55.50" y1="446.34" x2="56.90" y2="446.34" stroke="#111" stroke-width="0.7" />
<line x1="174.80" y1="446.34" x2="173.40" y2="446.34" stroke="#111" stroke-width="0.7" />
<line x1="55.50" y1="445.64" x2="58.10" y2="445.64" stroke="#111" stroke-width="1.0" />
<line x1="174.80" y1="445.64" x2="172.20" y2="445.64" stroke="#111" stroke-width="1.0" />
<line x1="55.50" y1="441.04" x2="56.90" y2="441.04" stroke="#111" stroke-width="0.7" />
<line x1="174.80" y1="441.04" x2="173.40" y2="441.04" stroke="#111" stroke-width="0.7" />
<line x1="55.50" y1="438.35" x2="56.90" y2="438.35" stroke="#111" stroke-width="0.7" />
<line x1="174.80" y1="438.35" x2="173.40" y2="438.35" stroke="#111" stroke-width="0.7" />
<line x1="55.50" y1="436.44" x2="56.90" y2="436.44" stroke="#111" stroke-width="0.7" />
<line x1="174.80" y1="436.44" x2="173.40" y2="436.44" stroke="#111" stroke-width="0.7" />
<line x1="55.50" y1="434.96" x2="56.90" y2="434.96" stroke="#111" stroke-width="0.7" />
<line x1="174.80" y1="434.96" x2="173.40" y2="434.96" stroke="#111" stroke-width="0.7" />
<line x1="55.50" y1="433.75" x2="56.90" y2="433.75" stroke="#111" stroke-width="0.7" />
<line x1="174.80" y1="433.75" x2="173.40" y2="433.75" stroke="#111" stroke-width="0.7" />
<line x1="55.50" y1="432.73" x2="56.90" y2="432.73" stroke="#111" stroke-width="0.7" />
<line x1="174.80" y1="432.73" x2="173.40" y2="432.73" stroke="#111" stroke-width="0.7" />
<line x1="55.50" y1="431.84" x2="56.90" y2="431.84" stroke="#111" stroke-width="0.7" />
<line x1="174.80" y1="431.84" x2="173.40" y2="431.84" stroke="#111" stroke-width="0.7" />
<line x1="55.50" y1="431.06" x2="56.90" y2="431.06" stroke="#111" stroke-width="0.7" />
<line x1="174.80" y1="431.06" x2="173.40" y2="431.06" stroke="#111" stroke-width="0.7" />
<line x1="55.50" y1="430.36" x2="58.10" y2="430.36" stroke="#111" stroke-width="1.0" />
<line x1="174.80" y1="430.36" x2="172.20" y2="430.36" stroke="#111" stroke-width="1.0" />
<line x1="55.50" y1="425.76" x2="56.90" y2="425.76" stroke="#111" stroke-width="0.7" />
<line x1="174.80" y1="425.76" x2="173.40" y2="425.76" stroke="#111" stroke-width="0.7" />
<line x1="55.50" y1="423.07" x2="56.90" y2="423.07" stroke="#111" stroke-width="0.7" />
<line x1="174.80" y1="423.07" x2="173.40" y2="423.07" stroke="#111" stroke-width="0.7" />
<line x1="55.50" y1="421.16" x2="56.90" y2="421.16" stroke="#111" stroke-width="0.7" />
<line x1="174.80" y1="421.16" x2="173.40" y2="421.16" stroke="#111" stroke-width="0.7" />
<line x1="55.50" y1="419.68" x2="56.90" y2="419.68" stroke="#111" stroke-width="0.7" />
<line x1="174.80" y1="419.68" x2="173.40" y2="419.68" stroke="#111" stroke-width="0.7" />
<line x1="55.50" y1="418.47" x2="56.90" y2="418.47" stroke="#111" stroke-width="0.7" />
<line x1="174.80" y1="418.47" x2="173.40" y2="418.47" stroke="#111" stroke-width="0.7" />
<line x1="55.50" y1="417.45" x2="56.90" y2="417.45" stroke="#111" stroke-width="0.7" />
<line x1="174.80" y1="417.45" x2="173.40" y2="417.45" stroke="#111" stroke-width="0.7" />
<line x1="55.50" y1="416.56" x2="56.90" y2="416.56" stroke="#111" stroke-width="0.7" />
<line x1="174.80" y1="416.56" x2="173.40" y2="416.56" stroke="#111" stroke-width="0.7" />
<line x1="55.50" y1="415.78" x2="56.90" y2="415.78" stroke="#111" stroke-width="0.7" />
<line x1="174.80" y1="415.78" x2="173.40" y2="415.78" stroke="#111" stroke-width="0.7" />
<line x1="55.50" y1="415.08" x2="58.10" y2="415.08" stroke="#111" stroke-width="1.0" />
<line x1="174.80" y1="415.08" x2="172.20" y2="415.08" stroke="#111" stroke-width="1.0" />
<line x1="55.50" y1="410.48" x2="56.90" y2="410.48" stroke="#111" stroke-width="0.7" />
<line x1="174.80" y1="410.48" x2="173.40" y2="410.48" stroke="#111" stroke-width="0.7" />
<line x1="55.50" y1="407.79" x2="56.90" y2="407.79" stroke="#111" stroke-width="0.7" />
<line x1="174.80" y1="407.79" x2="173.40" y2="407.79" stroke="#111" stroke-width="0.7" />
<line x1="55.50" y1="405.88" x2="56.90" y2="405.88" stroke="#111" stroke-width="0.7" />
<line x1="174.80" y1="405.88" x2="173.40" y2="405.88" stroke="#111" stroke-width="0.7" />
<line x1="55.50" y1="404.40" x2="56.90" y2="404.40" stroke="#111" stroke-width="0.7" />
<line x1="174.80" y1="404.40" x2="173.40" y2="404.40" stroke="#111" stroke-width="0.7" />
<line x1="55.50" y1="403.19" x2="56.90" y2="403.19" stroke="#111" stroke-width="0.7" />
<line x1="174.80" y1="403.19" x2="173.40" y2="403.19" stroke="#111" stroke-width="0.7" />
<line x1="55.50" y1="402.17" x2="56.90" y2="402.17" stroke="#111" stroke-width="0.7" />
<line x1="174.80" y1="402.17" x2="173.40" y2="402.17" stroke="#111" stroke-width="0.7" />
<line x1="55.50" y1="401.28" x2="56.90" y2="401.28" stroke="#111" stroke-width="0.7" />
<line x1="174.80" y1="401.28" x2="173.40" y2="401.28" stroke="#111" stroke-width="0.7" />
<line x1="55.50" y1="400.50" x2="56.90" y2="400.50" stroke="#111" stroke-width="0.7" />
<line x1="174.80" y1="400.50" x2="173.40" y2="400.50" stroke="#111" stroke-width="0.7" />
<line x1="55.50" y1="399.80" x2="58.10" y2="399.80" stroke="#111" stroke-width="1.0" />
<line x1="174.80" y1="399.80" x2="172.20" y2="399.80" stroke="#111" stroke-width="1.0" />
<line x1="55.50" y1="395.20" x2="56.90" y2="395.20" stroke="#111" stroke-width="0.7" />
<line x1="174.80" y1="395.20" x2="173.40" y2="395.20" stroke="#111" stroke-width="0.7" />
<line x1="55.50" y1="392.51" x2="56.90" y2="392.51" stroke="#111" stroke-width="0.7" />
<line x1="174.80" y1="392.51" x2="173.40" y2="392.51" stroke="#111" stroke-width="0.7" />
<line x1="85.33" y1="506.00" x2="85.33" y2="503.60" stroke="#444" stroke-width="0.7" />
<line x1="85.33" y1="391.70" x2="85.33" y2="394.10" stroke="#444" stroke-width="0.7" />
<line x1="115.15" y1="506.00" x2="115.15" y2="503.60" stroke="#444" stroke-width="0.7" />
<line x1="115.15" y1="391.70" x2="115.15" y2="394.10" stroke="#444" stroke-width="0.7" />
<line x1="144.98" y1="506.00" x2="144.98" y2="503.60" stroke="#444" stroke-width="0.7" />
<line x1="144.98" y1="391.70" x2="144.98" y2="394.10" stroke="#444" stroke-width="0.7" />
<line x1="58.10" y1="412.60" x2="126.00" y2="412.60" stroke="#4E8A2E" stroke-width="1.5" stroke-dasharray="6.2 5.3"/>
<line x1="130.20" y1="417.00" x2="130.20" y2="504.50" stroke="#4E8A2E" stroke-width="1.5" stroke-dasharray="6 5.7" stroke-dashoffset="1.1"/>
<line x1="56.30" y1="421.90" x2="111.00" y2="421.90" stroke="#000" stroke-width="1.5" stroke-dasharray="6.2 5.3"/>
<line x1="115.10" y1="426.50" x2="115.10" y2="504.50" stroke="#000" stroke-width="1.5" stroke-dasharray="6 5.7" stroke-dashoffset="10.6"/>
<line x1="62.20" y1="439.70" x2="96.00" y2="439.70" stroke="#C00000" stroke-width="1.5" stroke-dasharray="6.2 5.3"/>
<line x1="100.90" y1="444.00" x2="100.90" y2="504.50" stroke="#C00000" stroke-width="1.5" stroke-dasharray="6 5.7" stroke-dashoffset="4.7"/>
<polyline points="55.6,458.3 58.5,463.0 62.5,470.0 64.5,474.5 66.0,477.5 67.5,480.5 68.5,483.0 69.5,489.0 70.8,496.5" fill="none" stroke="#FF0000" stroke-width="1.5" stroke-linejoin="round"/>
<circle cx="75.3" cy="494" r="0.8" fill="#FF0000"/>
<line x1="77.40" y1="485.50" x2="78.00" y2="488.50" stroke="#FF0000" stroke-width="1.4" />
<polyline points="83.3,492.0 84.0,497.0 84.5,501.0 84.5,506.0" fill="none" stroke="#FF0000" stroke-width="1.6" stroke-linejoin="round"/>
<line x1="89.20" y1="498.00" x2="90.00" y2="489.30" stroke="#FF0000" stroke-width="1.3" />
<line x1="94.40" y1="494.00" x2="95.40" y2="484.50" stroke="#FF0000" stroke-width="1.3" />
<line x1="98.40" y1="496.00" x2="99.40" y2="485.50" stroke="#FF0000" stroke-width="1.3" />
<line x1="103.00" y1="491.00" x2="103.50" y2="488.00" stroke="#FF0000" stroke-width="1.3" />
<line x1="107.80" y1="494.50" x2="109.30" y2="485.00" stroke="#FF0000" stroke-width="1.3" />
<line x1="115.30" y1="498.00" x2="116.50" y2="490.00" stroke="#FF0000" stroke-width="1.3" />
<line x1="117.00" y1="489.50" x2="117.80" y2="491.50" stroke="#FF0000" stroke-width="1.3" />
<line x1="123.40" y1="493.60" x2="124.30" y2="488.50" stroke="#FF0000" stroke-width="1.3" />
<polyline points="55.6,458.3 58.0,463.5 60.5,469.0 63.0,475.0 65.5,481.0 66.5,485.0 68.0,484.5 69.5,485.5" fill="none" stroke="#00F000" stroke-width="1.5" stroke-linejoin="round"/>
<line x1="74.60" y1="484.30" x2="74.60" y2="489.30" stroke="#00F000" stroke-width="1.5" />
<polyline points="79.8,484.0 80.2,492.0 80.6,499.5 81.5,497.0 82.5,492.0" fill="none" stroke="#00F000" stroke-width="1.6" stroke-linejoin="round"/>
<polyline points="130.4,494.5 130.8,488.0 131.5,482.0 132.5,473.0 134.5,461.0 136.5,452.5 139.2,445.7 143.0,440.0 148.7,434.3 155.0,427.2 160.0,421.8 164.0,417.0 168.0,411.5 171.5,406.8 174.6,402.6" fill="none" stroke="#FF0000" stroke-width="1.6" stroke-linejoin="round"/>
<polyline points="82.5,492.0 83.3,488.0 85.0,479.0 86.5,471.0 88.0,464.7 90.2,457.5 92.7,451.4 95.5,446.0 98.4,441.0 102.5,435.5 106.9,430.5 111.0,426.0 115.5,421.8 122.0,416.8 129.7,412.3 137.0,409.0 144.9,406.3 152.0,404.4 160.0,403.0 167.0,402.2 174.6,401.4" fill="none" stroke="#00F000" stroke-width="1.6" stroke-linejoin="round"/>
<circle cx="100.1" cy="439.7" r="4.5" fill="none" stroke="#C00000" stroke-width="1.4" stroke-dasharray="1.3 2.2"/>
<circle cx="115.3" cy="421.9" r="4.5" fill="none" stroke="#000" stroke-width="1.4" stroke-dasharray="1.3 2.2"/>
<circle cx="129.9" cy="412.6" r="4.5" fill="none" stroke="#4E8A2E" stroke-width="1.4" stroke-dasharray="1.3 2.2"/>
<rect x="55.50" y="391.70" width="119.30" height="114.30" fill="none" stroke="#8c8c8c" stroke-width="1.1" />
<text x="51.4" y="405.40" font-size="10.6" fill="#262626" text-anchor="end">10<tspan font-size="9.4" dy="-5.2">-6</tspan></text>
<text x="51.4" y="435.96" font-size="10.6" fill="#262626" text-anchor="end">10<tspan font-size="9.4" dy="-5.2">-8</tspan></text>
<text x="51.4" y="466.52" font-size="10.6" fill="#262626" text-anchor="end">10<tspan font-size="9.4" dy="-5.2">-10</tspan></text>
<text x="51.4" y="497.08" font-size="10.6" fill="#262626" text-anchor="end">10<tspan font-size="9.4" dy="-5.2">-12</tspan></text>
<text x="55.50" y="521.50" font-size="10.6" fill="#262626" text-anchor="middle" >-10</text>
<text x="85.33" y="521.50" font-size="10.6" fill="#262626" text-anchor="middle" >-5</text>
<text x="115.15" y="521.50" font-size="10.6" fill="#262626" text-anchor="middle" >0</text>
<text x="144.98" y="521.50" font-size="10.6" fill="#262626" text-anchor="middle" >5</text>
<text x="174.80" y="521.50" font-size="10.6" fill="#262626" text-anchor="middle" >10</text>
<text x="93.00" y="538.10" font-size="12.6" fill="#262626" >V</text>
<text x="101.80" y="544.20" font-size="10" fill="#262626" >BG</text>
<text x="120.00" y="538.10" font-size="12.6" fill="#262626" textLength="17.20" lengthAdjust="spacingAndGlyphs" >(V)</text>
<text transform="translate(12.2 478.6) rotate(-90)" x="0" y="0" font-size="12" fill="#262626" textLength="59.5" lengthAdjust="spacingAndGlyphs">I<tspan font-size="9" dy="6.5">DS</tspan><tspan dy="-6.5"> (A/&#956;m)</tspan></text>
<text x="2.50" y="571.90" font-size="20" font-weight="bold" fill="#000" textLength="17.20" lengthAdjust="spacingAndGlyphs">e<tspan dy="-1">)</tspan></text>
<text x="47.60" y="569.80" font-size="13.5" fill="#000" textLength="115.30" lengthAdjust="spacingAndGlyphs" >Weight Adjustment</text>
<line x1="47.60" y1="571.50" x2="162.90" y2="571.50" stroke="#000" stroke-width="1.0" />
<rect x="22.90" y="582.60" width="33.20" height="26.25" fill="#7E385E" stroke="#8E1F3E" stroke-width="0.8" />
<rect x="56.10" y="582.60" width="33.20" height="26.25" fill="#7E385E" stroke="#8E1F3E" stroke-width="0.8" />
<rect x="89.30" y="582.60" width="33.20" height="26.25" fill="#75D1A5" stroke="#3FAE6A" stroke-width="0.8" />
<rect x="122.50" y="582.60" width="33.20" height="26.25" fill="#7E385E" stroke="#8E1F3E" stroke-width="0.8" />
<rect x="155.70" y="582.60" width="33.20" height="26.25" fill="#7E385E" stroke="#8E1F3E" stroke-width="0.8" />
<rect x="22.90" y="608.85" width="33.20" height="26.25" fill="#7E385E" stroke="#8E1F3E" stroke-width="0.8" />
<rect x="56.10" y="608.85" width="33.20" height="26.25" fill="#028F84" stroke="#2B8C5E" stroke-width="0.8" />
<rect x="89.30" y="608.85" width="33.20" height="26.25" fill="#F2787B" stroke="#D83A3A" stroke-width="0.8" />
<rect x="122.50" y="608.85" width="33.20" height="26.25" fill="#028F84" stroke="#2B8C5E" stroke-width="0.8" />
<rect x="155.70" y="608.85" width="33.20" height="26.25" fill="#7E385E" stroke="#8E1F3E" stroke-width="0.8" />
<rect x="22.90" y="635.10" width="33.20" height="26.25" fill="#75D1A5" stroke="#3FAE6A" stroke-width="0.8" />
<rect x="56.10" y="635.10" width="33.20" height="26.25" fill="#F2787B" stroke="#D83A3A" stroke-width="0.8" />
<rect x="89.30" y="635.10" width="33.20" height="26.25" fill="#F2787B" stroke="#D83A3A" stroke-width="0.8" />
<rect x="122.50" y="635.10" width="33.20" height="26.25" fill="#F2787B" stroke="#D83A3A" stroke-width="0.8" />
<rect x="155.70" y="635.10" width="33.20" height="26.25" fill="#75D1A5" stroke="#3FAE6A" stroke-width="0.8" />
<rect x="22.90" y="661.35" width="33.20" height="26.25" fill="#7E385E" stroke="#8E1F3E" stroke-width="0.8" />
<rect x="56.10" y="661.35" width="33.20" height="26.25" fill="#028F84" stroke="#2B8C5E" stroke-width="0.8" />
<rect x="89.30" y="661.35" width="33.20" height="26.25" fill="#F2787B" stroke="#D83A3A" stroke-width="0.8" />
<rect x="122.50" y="661.35" width="33.20" height="26.25" fill="#028F84" stroke="#2B8C5E" stroke-width="0.8" />
<rect x="155.70" y="661.35" width="33.20" height="26.25" fill="#7E385E" stroke="#8E1F3E" stroke-width="0.8" />
<rect x="22.90" y="687.60" width="33.20" height="26.25" fill="#7E385E" stroke="#8E1F3E" stroke-width="0.8" />
<rect x="56.10" y="687.60" width="33.20" height="26.25" fill="#7E385E" stroke="#8E1F3E" stroke-width="0.8" />
<rect x="89.30" y="687.60" width="33.20" height="26.25" fill="#75D1A5" stroke="#3FAE6A" stroke-width="0.8" />
<rect x="122.50" y="687.60" width="33.20" height="26.25" fill="#7E385E" stroke="#8E1F3E" stroke-width="0.8" />
<rect x="155.70" y="687.60" width="33.20" height="26.25" fill="#7E385E" stroke="#8E1F3E" stroke-width="0.8" />
<text x="39.50" y="597.52" font-size="5" fill="#D0789A" text-anchor="middle" >1</text>
<text x="72.70" y="597.52" font-size="5" fill="#D0789A" text-anchor="middle" >1</text>
<text x="105.90" y="597.52" font-size="5" fill="#1F4F2F" text-anchor="middle" >0</text>
<text x="139.10" y="597.52" font-size="5" fill="#D0789A" text-anchor="middle" >1</text>
<text x="172.30" y="597.52" font-size="5" fill="#D0789A" text-anchor="middle" >1</text>
<text x="39.50" y="623.77" font-size="5" fill="#D0789A" text-anchor="middle" >1</text>
<text x="72.70" y="623.77" font-size="5" fill="#6FCFC0" text-anchor="middle" >1</text>
<text x="105.90" y="623.77" font-size="5" fill="#7A1E1E" text-anchor="middle" >0</text>
<text x="139.10" y="623.77" font-size="5" fill="#6FCFC0" text-anchor="middle" >1</text>
<text x="172.30" y="623.77" font-size="5" fill="#D0789A" text-anchor="middle" >1</text>
<text x="39.50" y="650.02" font-size="5" fill="#1F4F2F" text-anchor="middle" >0</text>
<text x="72.70" y="650.02" font-size="5" fill="#7A1E1E" text-anchor="middle" >0</text>
<text x="105.90" y="650.02" font-size="5" fill="#7A1E1E" text-anchor="middle" >0</text>
<text x="139.10" y="650.02" font-size="5" fill="#7A1E1E" text-anchor="middle" >0</text>
<text x="172.30" y="650.02" font-size="5" fill="#1F4F2F" text-anchor="middle" >0</text>
<text x="39.50" y="676.27" font-size="5" fill="#D0789A" text-anchor="middle" >1</text>
<text x="72.70" y="676.27" font-size="5" fill="#6FCFC0" text-anchor="middle" >1</text>
<text x="105.90" y="676.27" font-size="5" fill="#7A1E1E" text-anchor="middle" >0</text>
<text x="139.10" y="676.27" font-size="5" fill="#6FCFC0" text-anchor="middle" >1</text>
<text x="172.30" y="676.27" font-size="5" fill="#D0789A" text-anchor="middle" >1</text>
<text x="39.50" y="702.52" font-size="5" fill="#D0789A" text-anchor="middle" >1</text>
<text x="72.70" y="702.52" font-size="5" fill="#D0789A" text-anchor="middle" >1</text>
<text x="105.90" y="702.52" font-size="5" fill="#1F4F2F" text-anchor="middle" >0</text>
<text x="139.10" y="702.52" font-size="5" fill="#D0789A" text-anchor="middle" >1</text>
<text x="172.30" y="702.52" font-size="5" fill="#D0789A" text-anchor="middle" >1</text>
<text x="27.00" y="738.60" font-size="13" fill="#FF2525" textLength="64.20" lengthAdjust="spacingAndGlyphs" >Depression</text>
<text x="115.00" y="738.60" font-size="13" fill="#70AD47" textLength="70.80" lengthAdjust="spacingAndGlyphs" >Potentiation</text>
<text x="198.60" y="372.00" font-size="20" font-weight="bold" fill="#000" textLength="14.00" lengthAdjust="spacingAndGlyphs">f<tspan dy="-1">)</tspan></text>
<text x="247.70" y="361.10" font-size="13.5" fill="#000" textLength="116.10" lengthAdjust="spacingAndGlyphs" >Uniform Depression</text>
<line x1="247.70" y1="363.50" x2="363.80" y2="363.50" stroke="#000" stroke-width="1.0" />
<rect x="233.20" y="387.70" width="72.55" height="67.70" fill="#80bf68" />
<rect x="304.75" y="387.70" width="71.55" height="67.70" fill="#80bf68" />
<rect x="233.20" y="454.40" width="72.55" height="66.70" fill="#008068" />
<rect x="304.75" y="454.40" width="71.55" height="66.70" fill="#ffff68" />
<rect x="233.20" y="387.70" width="143.10" height="133.40" fill="none" stroke="#3a3a3a" stroke-width="0.7" />
<defs><linearGradient id="cb_f" x1="0" x2="0" y1="1" y2="0"><stop offset="0" stop-color="#008068"/><stop offset="1" stop-color="#ffff68"/></linearGradient></defs>
<rect x="381.50" y="387.70" width="11.30" height="133.40" fill="url(#cb_f)" stroke="#3a3a3a" stroke-width="0.7" />
<line x1="390.80" y1="399.50" x2="392.80" y2="399.50" stroke="#262626" stroke-width="0.6" />
<text x="396.80" y="403.20" font-size="10" fill="#262626" >0.04</text>
<line x1="390.80" y1="432.50" x2="392.80" y2="432.50" stroke="#262626" stroke-width="0.6" />
<text x="396.80" y="436.20" font-size="10" fill="#262626" >0.035</text>
<line x1="390.80" y1="464.00" x2="392.80" y2="464.00" stroke="#262626" stroke-width="0.6" />
<text x="396.80" y="467.70" font-size="10" fill="#262626" >0.03</text>
<line x1="390.80" y1="496.20" x2="392.80" y2="496.20" stroke="#262626" stroke-width="0.6" />
<text x="396.80" y="499.90" font-size="10" fill="#262626" >0.025</text>
<text x="229.00" y="424.65" font-size="10" fill="#262626" text-anchor="end" >4</text>
<text x="268.98" y="537.00" font-size="10" fill="#262626" text-anchor="middle" >4</text>
<text x="229.00" y="491.35" font-size="10" fill="#262626" text-anchor="end" >5</text>
<text x="340.52" y="537.00" font-size="10" fill="#262626" text-anchor="middle" >5</text>
<text x="304.75" y="552.20" font-size="11.8" fill="#262626" text-anchor="middle" textLength="28.60" lengthAdjust="spacingAndGlyphs" >Node</text>
<text transform="translate(218.00 454.40) rotate(-90)" x="0" y="0" font-size="12.2" fill="#262626" text-anchor="middle" textLength="66.30" lengthAdjust="spacingAndGlyphs">Input Shape</text>
<text transform="translate(426.00 454.40) rotate(90)" x="0" y="0" font-size="10.9" fill="#262626" text-anchor="middle" textLength="95.20" lengthAdjust="spacingAndGlyphs">Output Current (nA)</text>
<text x="457.50" y="372.50" font-size="20" font-weight="bold" fill="#000" textLength="17.10" lengthAdjust="spacingAndGlyphs">g<tspan dy="-1">)</tspan></text>
<text x="503.30" y="361.60" font-size="13.5" fill="#000" textLength="123.30" lengthAdjust="spacingAndGlyphs" >Uniform Potentiation</text>
<line x1="503.30" y1="363.50" x2="626.60" y2="363.50" stroke="#000" stroke-width="1.0" />
<rect x="482.40" y="387.70" width="72.55" height="67.65" fill="#69b468" />
<rect x="553.95" y="387.70" width="71.55" height="67.65" fill="#8fc768" />
<rect x="482.40" y="454.35" width="72.55" height="66.65" fill="#0a8568" />
<rect x="553.95" y="454.35" width="71.55" height="66.65" fill="#ffff68" />
<rect x="482.40" y="387.70" width="143.10" height="133.30" fill="none" stroke="#3a3a3a" stroke-width="0.7" />
<defs><linearGradient id="cb_g" x1="0" x2="0" y1="1" y2="0"><stop offset="0" stop-color="#008068"/><stop offset="1" stop-color="#ffff68"/></linearGradient></defs>
<rect x="632.20" y="387.70" width="11.30" height="133.30" fill="url(#cb_g)" stroke="#3a3a3a" stroke-width="0.7" />
<line x1="641.50" y1="404.30" x2="643.50" y2="404.30" stroke="#262626" stroke-width="0.6" />
<text x="647.50" y="408.00" font-size="10" fill="#262626" >1100</text>
<line x1="641.50" y1="427.50" x2="643.50" y2="427.50" stroke="#262626" stroke-width="0.6" />
<text x="647.50" y="431.20" font-size="10" fill="#262626" >1000</text>
<line x1="641.50" y1="451.40" x2="643.50" y2="451.40" stroke="#262626" stroke-width="0.6" />
<text x="647.50" y="455.10" font-size="10" fill="#262626" >900</text>
<line x1="641.50" y1="475.40" x2="643.50" y2="475.40" stroke="#262626" stroke-width="0.6" />
<text x="647.50" y="479.10" font-size="10" fill="#262626" >800</text>
<line x1="641.50" y1="499.10" x2="643.50" y2="499.10" stroke="#262626" stroke-width="0.6" />
<text x="647.50" y="502.80" font-size="10" fill="#262626" >700</text>
<text x="478.20" y="424.62" font-size="10" fill="#262626" text-anchor="end" >4</text>
<text x="518.17" y="536.90" font-size="10" fill="#262626" text-anchor="middle" >4</text>
<text x="478.20" y="491.28" font-size="10" fill="#262626" text-anchor="end" >5</text>
<text x="589.73" y="536.90" font-size="10" fill="#262626" text-anchor="middle" >5</text>
<text x="553.95" y="552.10" font-size="11.8" fill="#262626" text-anchor="middle" textLength="28.60" lengthAdjust="spacingAndGlyphs" >Node</text>
<text transform="translate(467.20 454.35) rotate(-90)" x="0" y="0" font-size="12.2" fill="#262626" text-anchor="middle" textLength="66.30" lengthAdjust="spacingAndGlyphs">Input Shape</text>
<text transform="translate(674.90 454.50) rotate(90)" x="0" y="0" font-size="10.9" fill="#262626" text-anchor="middle" textLength="94.20" lengthAdjust="spacingAndGlyphs">Output Current (nA)</text>
<text x="196.30" y="571.90" font-size="20" font-weight="bold" fill="#000" textLength="17.20" lengthAdjust="spacingAndGlyphs">h<tspan dy="-1">)</tspan></text>
<text x="233.60" y="569.70" font-size="13.5" fill="#000" textLength="152.60" lengthAdjust="spacingAndGlyphs" >Depression &amp; Potentiation</text>
<line x1="233.60" y1="571.50" x2="386.20" y2="571.50" stroke="#000" stroke-width="1.0" />
<rect x="234.60" y="577.70" width="72.25" height="68.30" fill="#edf668" />
<rect x="305.85" y="577.70" width="71.25" height="68.30" fill="#088368" />
<rect x="234.60" y="645.00" width="72.25" height="67.30" fill="#088368" />
<rect x="305.85" y="645.00" width="71.25" height="67.30" fill="#ffff68" />
<rect x="234.60" y="577.70" width="142.50" height="134.60" fill="none" stroke="#3a3a3a" stroke-width="0.7" />
<defs><linearGradient id="cb_h" x1="0" x2="0" y1="1" y2="0"><stop offset="0" stop-color="#008068"/><stop offset="1" stop-color="#ffff68"/></linearGradient></defs>
<rect x="381.60" y="577.70" width="12.20" height="134.60" fill="url(#cb_h)" stroke="#3a3a3a" stroke-width="0.7" />
<line x1="391.80" y1="599.30" x2="393.80" y2="599.30" stroke="#262626" stroke-width="0.6" />
<text x="397.80" y="603.00" font-size="10" fill="#262626" >100</text>
<line x1="391.80" y1="622.90" x2="393.80" y2="622.90" stroke="#262626" stroke-width="0.6" />
<text x="397.80" y="626.60" font-size="10" fill="#262626" >80</text>
<line x1="391.80" y1="646.00" x2="393.80" y2="646.00" stroke="#262626" stroke-width="0.6" />
<text x="397.80" y="649.70" font-size="10" fill="#262626" >60</text>
<line x1="391.80" y1="669.50" x2="393.80" y2="669.50" stroke="#262626" stroke-width="0.6" />
<text x="397.80" y="673.20" font-size="10" fill="#262626" >40</text>
<line x1="391.80" y1="693.00" x2="393.80" y2="693.00" stroke="#262626" stroke-width="0.6" />
<text x="397.80" y="696.70" font-size="10" fill="#262626" >20</text>
<text x="230.40" y="614.95" font-size="10" fill="#262626" text-anchor="end" >4</text>
<text x="270.23" y="728.20" font-size="10" fill="#262626" text-anchor="middle" >4</text>
<text x="230.40" y="682.25" font-size="10" fill="#262626" text-anchor="end" >5</text>
<text x="341.48" y="728.20" font-size="10" fill="#262626" text-anchor="middle" >5</text>
<text x="305.85" y="743.40" font-size="11.8" fill="#262626" text-anchor="middle" textLength="28.60" lengthAdjust="spacingAndGlyphs" >Node</text>
<text transform="translate(219.40 645.00) rotate(-90)" x="0" y="0" font-size="12.2" fill="#262626" text-anchor="middle" textLength="66.30" lengthAdjust="spacingAndGlyphs">Input Shape</text>
<text transform="translate(427.20 645.20) rotate(90)" x="0" y="0" font-size="10.9" fill="#262626" text-anchor="middle" textLength="94.80" lengthAdjust="spacingAndGlyphs">Output Current (nA)</text>
<text x="270.50" y="378.60" font-size="13" fill="#000" textLength="70.50" lengthAdjust="spacingAndGlyphs">(<tspan font-style="italic">V</tspan><tspan font-style="italic" font-size="9" dy="2.5">mod</tspan><tspan dy="-2.5"> = -2 V)</tspan></text>
<line x1="270.50" y1="381.00" x2="341.00" y2="381.00" stroke="#000" stroke-width="1.1" />
<text x="528.70" y="378.40" font-size="13" fill="#000" textLength="73.30" lengthAdjust="spacingAndGlyphs">(<tspan font-style="italic">V</tspan><tspan font-style="italic" font-size="9" dy="2.5">mod</tspan><tspan dy="-2.5"> = +2 V)</tspan></text>
<line x1="528.70" y1="380.80" x2="602.00" y2="380.80" stroke="#000" stroke-width="1.1" />
<text x="459.00" y="571.90" font-size="20" font-weight="bold" fill="#000" textLength="13.20" lengthAdjust="spacingAndGlyphs">i<tspan dy="-1">)</tspan></text>
<text x="504.40" y="569.70" font-size="13.5" fill="#000" textLength="152.00" lengthAdjust="spacingAndGlyphs" >Distinctiveness of Outputs</text>
<line x1="504.40" y1="571.50" x2="656.40" y2="571.50" stroke="#000" stroke-width="1.0" />
<rect x="484.40" y="585.30" width="196.30" height="47.60" fill="#fff" />
<rect x="498.80" y="631.07" width="14.60" height="1.83" fill="#0072BD" stroke="#2a2a2a" stroke-width="0.4" />
<rect x="516.80" y="631.07" width="14.60" height="1.83" fill="#D95319" stroke="#2a2a2a" stroke-width="0.4" />
<rect x="535.10" y="631.07" width="14.60" height="1.83" fill="#EDB120" stroke="#2a2a2a" stroke-width="0.4" />
<rect x="553.10" y="589.86" width="14.60" height="43.04" fill="#7E2F8E" stroke="#2a2a2a" stroke-width="0.4" />
<rect x="598.00" y="631.07" width="14.60" height="1.83" fill="#0072BD" stroke="#2a2a2a" stroke-width="0.4" />
<rect x="616.00" y="631.07" width="14.60" height="1.83" fill="#D95319" stroke="#2a2a2a" stroke-width="0.4" />
<rect x="634.10" y="631.07" width="14.60" height="1.83" fill="#EDB120" stroke="#2a2a2a" stroke-width="0.4" />
<rect x="652.10" y="603.80" width="14.60" height="29.10" fill="#7E2F8E" stroke="#2a2a2a" stroke-width="0.4" />
<rect x="484.40" y="585.30" width="196.30" height="47.60" fill="none" stroke="#9a9a9a" stroke-width="0.8" />
<line x1="484.40" y1="632.90" x2="486.40" y2="632.90" stroke="#262626" stroke-width="0.6" />
<line x1="680.70" y1="632.90" x2="678.70" y2="632.90" stroke="#262626" stroke-width="0.6" />
<text x="481.60" y="636.20" font-size="10" fill="#262626" text-anchor="end" >0</text>
<line x1="484.40" y1="612.60" x2="486.40" y2="612.60" stroke="#262626" stroke-width="0.6" />
<line x1="680.70" y1="612.60" x2="678.70" y2="612.60" stroke="#262626" stroke-width="0.6" />
<text x="481.60" y="616.40" font-size="10" fill="#262626" text-anchor="end" >15</text>
<line x1="484.40" y1="592.30" x2="486.40" y2="592.30" stroke="#262626" stroke-width="0.6" />
<line x1="680.70" y1="592.30" x2="678.70" y2="592.30" stroke="#262626" stroke-width="0.6" />
<text x="481.60" y="595.90" font-size="10" fill="#262626" text-anchor="end" >30</text>
<line x1="532.60" y1="632.90" x2="532.60" y2="630.90" stroke="#262626" stroke-width="0.6" />
<line x1="532.60" y1="585.30" x2="532.60" y2="587.30" stroke="#262626" stroke-width="0.6" />
<line x1="632.00" y1="632.90" x2="632.00" y2="630.90" stroke="#262626" stroke-width="0.6" />
<line x1="632.00" y1="585.30" x2="632.00" y2="587.30" stroke="#262626" stroke-width="0.6" />
<text x="532.60" y="646.40" font-size="10" fill="#262626" text-anchor="middle" >4</text>
<text x="632.00" y="646.40" font-size="10" fill="#262626" text-anchor="middle" >5</text>
<text transform="translate(465.70 608.90) rotate(-90)" x="0" y="0" font-size="10.2" fill="#262626" text-anchor="middle" textLength="56.00" lengthAdjust="spacingAndGlyphs">Output Ratio</text>
<text x="582.30" y="660.00" font-size="10.2" fill="#262626" text-anchor="middle" textLength="24.40" lengthAdjust="spacingAndGlyphs" >Node</text>
<rect x="484.40" y="668.40" width="196.30" height="48.20" fill="#fff" />
<rect x="498.80" y="714.91" width="14.60" height="1.69" fill="#0072BD" stroke="#2a2a2a" stroke-width="0.4" />
<rect x="516.80" y="714.91" width="14.60" height="1.69" fill="#D95319" stroke="#2a2a2a" stroke-width="0.4" />
<rect x="535.10" y="714.91" width="14.60" height="1.69" fill="#EDB120" stroke="#2a2a2a" stroke-width="0.4" />
<rect x="553.10" y="689.60" width="14.60" height="27.00" fill="#7E2F8E" stroke="#2a2a2a" stroke-width="0.4" />
<rect x="598.00" y="713.76" width="14.60" height="2.84" fill="#0072BD" stroke="#2a2a2a" stroke-width="0.4" />
<rect x="616.00" y="713.76" width="14.60" height="2.84" fill="#D95319" stroke="#2a2a2a" stroke-width="0.4" />
<rect x="634.10" y="713.76" width="14.60" height="2.84" fill="#EDB120" stroke="#2a2a2a" stroke-width="0.4" />
<rect x="652.10" y="670.70" width="14.60" height="45.90" fill="#7E2F8E" stroke="#2a2a2a" stroke-width="0.4" />
<rect x="484.40" y="668.40" width="196.30" height="48.20" fill="none" stroke="#9a9a9a" stroke-width="0.8" />
<line x1="484.40" y1="716.60" x2="486.40" y2="716.60" stroke="#262626" stroke-width="0.6" />
<line x1="680.70" y1="716.60" x2="678.70" y2="716.60" stroke="#262626" stroke-width="0.6" />
<text x="481.60" y="720.60" font-size="10" fill="#262626" text-anchor="end" >0</text>
<line x1="484.40" y1="696.35" x2="486.40" y2="696.35" stroke="#262626" stroke-width="0.6" />
<line x1="680.70" y1="696.35" x2="678.70" y2="696.35" stroke="#262626" stroke-width="0.6" />
<text x="481.60" y="700.00" font-size="10" fill="#262626" text-anchor="end" >15</text>
<line x1="484.40" y1="676.10" x2="486.40" y2="676.10" stroke="#262626" stroke-width="0.6" />
<line x1="680.70" y1="676.10" x2="678.70" y2="676.10" stroke="#262626" stroke-width="0.6" />
<text x="481.60" y="679.70" font-size="10" fill="#262626" text-anchor="end" >30</text>
<line x1="532.60" y1="716.60" x2="532.60" y2="714.60" stroke="#262626" stroke-width="0.6" />
<line x1="532.60" y1="668.40" x2="532.60" y2="670.40" stroke="#262626" stroke-width="0.6" />
<line x1="632.00" y1="716.60" x2="632.00" y2="714.60" stroke="#262626" stroke-width="0.6" />
<line x1="632.00" y1="668.40" x2="632.00" y2="670.40" stroke="#262626" stroke-width="0.6" />
<text x="532.60" y="730.00" font-size="10" fill="#262626" text-anchor="middle" >4</text>
<text x="632.00" y="730.00" font-size="10" fill="#262626" text-anchor="middle" >5</text>
<text transform="translate(465.70 692.80) rotate(-90)" x="0" y="0" font-size="10.2" fill="#262626" text-anchor="middle" textLength="56.00" lengthAdjust="spacingAndGlyphs">Output Ratio</text>
<text x="582.30" y="743.70" font-size="10.2" fill="#262626" text-anchor="middle" textLength="54.00" lengthAdjust="spacingAndGlyphs" >Input Shape</text>
<text x="493.90" y="595.40" font-size="8.6" fill="#0072BD" textLength="32.90" lengthAdjust="spacingAndGlyphs" >Standard</text>
<text x="493.90" y="605.90" font-size="8.6" fill="#D95319" textLength="50.40" lengthAdjust="spacingAndGlyphs" >Uniform Dep.</text>
<text x="493.90" y="616.40" font-size="8.6" fill="#EDB120" textLength="47.50" lengthAdjust="spacingAndGlyphs" >Uniform Pot.</text>
<text x="493.90" y="627.00" font-size="8.6" fill="#7E2F8E" textLength="42.60" lengthAdjust="spacingAndGlyphs" >Dep. &amp; Pot.</text>
</svg></body></html>
